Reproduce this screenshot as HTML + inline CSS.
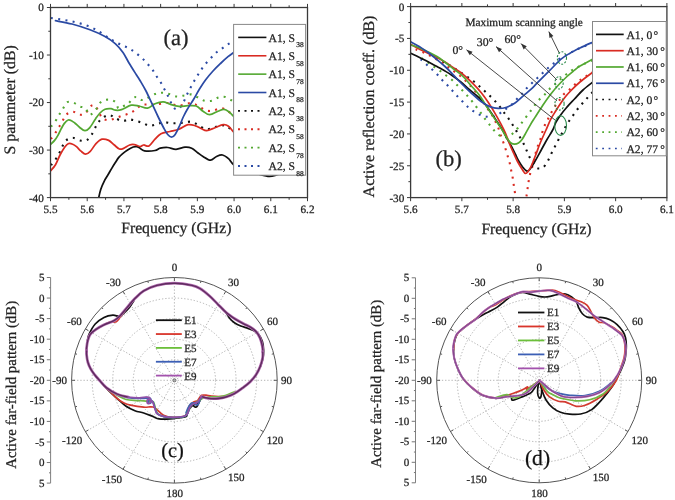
<!DOCTYPE html><html><head><meta charset="utf-8"><style>html,body{margin:0;padding:0;background:#fff;}svg{display:block;will-change:transform} text{stroke:#222;stroke-width:0.25px;paint-order:stroke;text-rendering:geometricPrecision;}</style></head><body><svg width="675" height="500" viewBox="0 0 675 500" font-family="Liberation Serif, serif"><defs><clipPath id="ca"><rect x="50.5" y="7.5" width="257.0" height="190.1"/></clipPath><clipPath id="cb"><rect x="410.6" y="6.6" width="256.3" height="191"/></clipPath></defs><path d="M51,165.2 C51.75,164.25 54.13,161.5 55.5,159.5 C56.87,157.5 58.08,155.33 59.2,153.2 C60.32,151.07 61.07,148.82 62.2,146.7 C63.33,144.58 64.25,141.98 66,140.5 C67.75,139.02 70.33,137.8 72.7,137.8 C75.07,137.8 77.87,140.1 80.2,140.5 C82.53,140.9 84.82,141.15 86.7,140.2 C88.58,139.25 90.08,136.88 91.5,134.8 C92.92,132.72 94.08,129.75 95.2,127.7 C96.32,125.65 96.95,124.17 98.2,122.5 C99.45,120.83 100.82,118.95 102.7,117.7 C104.58,116.45 107.37,114.9 109.5,115 C111.63,115.1 113.3,117.3 115.5,118.3 C117.7,119.3 120.45,120.8 122.7,121 C124.95,121.2 126.83,119.55 129,119.5 C131.17,119.45 133.33,120.08 135.7,120.7 C138.07,121.32 140.87,122.35 143.2,123.2 C145.53,124.05 147.48,125.62 149.7,125.8 C151.92,125.98 154.17,124.9 156.5,124.3 C158.83,123.7 161.33,122.38 163.7,122.2 C166.07,122.02 168.35,123.03 170.7,123.2 C173.05,123.37 175.47,123.32 177.8,123.2 C180.13,123.08 182.38,122.75 184.7,122.5 C187.02,122.25 189.4,121.25 191.7,121.7 C194,122.15 196.12,123.95 198.5,125.2 C200.88,126.45 203.55,128.78 206,129.2 C208.45,129.62 210.83,128.32 213.2,127.7 C215.57,127.08 217.9,125.75 220.2,125.5 C222.5,125.25 224.78,125.08 227,126.2 C229.22,127.32 232.42,131.2 233.5,132.2" fill="none" stroke="#111" stroke-width="2.1" stroke-dasharray="2 5.3" stroke-linecap="butt" clip-path="url(#ca)"/><path d="M51,139 C51.75,137.95 54.13,134.75 55.5,132.7 C56.87,130.65 57.95,128.82 59.2,126.7 C60.45,124.58 61.8,122.03 63,120 C64.2,117.97 64.73,115.88 66.4,114.5 C68.07,113.12 70.82,111.67 73,111.7 C75.18,111.73 77.42,114.45 79.5,114.7 C81.58,114.95 83.75,114.53 85.5,113.2 C87.25,111.87 88.55,108.03 90,106.7 C91.45,105.37 92.9,104.7 94.2,105.2 C95.5,105.7 96.5,107.62 97.8,109.7 C99.1,111.78 100.3,115.95 102,117.7 C103.7,119.45 105.8,120.08 108,120.2 C110.2,120.32 112.83,119.15 115.2,118.4 C117.57,117.65 119.9,116.52 122.2,115.7 C124.5,114.88 126.87,114.42 129,113.5 C131.13,112.58 133,111.58 135,110.2 C137,108.82 138.97,106.15 141,105.2 C143.03,104.25 144.87,104.62 147.2,104.5 C149.53,104.38 151.58,104.75 155,104.5 C158.42,104.25 164.45,102.95 167.7,103 C170.95,103.05 172.25,104.43 174.5,104.8 C176.75,105.17 178.83,105.45 181.2,105.2 C183.57,104.95 186.45,103.47 188.7,103.3 C190.95,103.13 192.7,103.5 194.7,104.2 C196.7,104.9 198.57,106.4 200.7,107.5 C202.83,108.6 205.28,110.35 207.5,110.8 C209.72,111.25 211.75,110.63 214,110.2 C216.25,109.77 218.83,108.15 221,108.2 C223.17,108.25 224.92,109.25 227,110.5 C229.08,111.75 232.42,114.83 233.5,115.7" fill="none" stroke="#d92b22" stroke-width="2.1" stroke-dasharray="2 5.3" stroke-linecap="butt" clip-path="url(#ca)"/><path d="M51,126.7 C51.75,125.75 54.13,123 55.5,121 C56.87,119 57.95,116.75 59.2,114.7 C60.45,112.65 61.67,110.78 63,108.7 C64.33,106.62 65.45,103.2 67.2,102.2 C68.95,101.2 71.4,102 73.5,102.7 C75.6,103.4 77.8,105.48 79.8,106.4 C81.8,107.32 84.05,106.9 85.5,108.2 C86.95,109.5 87.5,113.2 88.5,114.2 C89.5,115.2 90.25,115.02 91.5,114.2 C92.75,113.38 94.88,110.62 96,109.3 C97.12,107.98 97.2,107.68 98.2,106.3 C99.2,104.92 100.12,102.1 102,101 C103.88,99.9 107.25,99.5 109.5,99.7 C111.75,99.9 114,100.78 115.5,102.2 C117,103.62 117.13,107.57 118.5,108.2 C119.87,108.83 122.08,106.75 123.7,106 C125.32,105.25 126.7,104.95 128.2,103.7 C129.7,102.45 131.28,99.62 132.7,98.5 C134.12,97.38 134.98,96.75 136.7,97 C138.42,97.25 139.95,100.5 143,100 C146.05,99.5 151.75,95.2 155,94 C158.25,92.8 160.13,92.8 162.5,92.8 C164.87,92.8 166.83,93.38 169.2,94 C171.57,94.62 174.2,96.25 176.7,96.5 C179.2,96.75 181.7,95.85 184.2,95.5 C186.7,95.15 189.45,94.1 191.7,94.4 C193.95,94.7 195.57,96.25 197.7,97.3 C199.83,98.35 202.17,100.13 204.5,100.7 C206.83,101.27 209.33,101.25 211.7,100.7 C214.07,100.15 216.4,98.02 218.7,97.4 C221,96.78 223.03,96.32 225.5,97 C227.97,97.68 232.17,100.75 233.5,101.5" fill="none" stroke="#53a831" stroke-width="2.1" stroke-dasharray="2 5.3" stroke-linecap="butt" clip-path="url(#ca)"/><path d="M51,18 C52.12,18.17 55.33,18.63 57.7,19 C60.07,19.37 62.82,19.8 65.2,20.2 C67.58,20.6 69.67,20.9 72,21.4 C74.33,21.9 76.9,22.57 79.2,23.2 C81.5,23.83 83.55,24.4 85.8,25.2 C88.05,26 90.5,26.95 92.7,28 C94.9,29.05 96.95,30.25 99,31.5 C101.05,32.75 103.05,34.2 105,35.5 C106.95,36.8 108.75,38.1 110.7,39.3 C112.65,40.5 114.6,41.63 116.7,42.7 C118.8,43.77 121.13,44.7 123.3,45.7 C125.47,46.7 127.63,47.52 129.7,48.7 C131.77,49.88 133.7,51.3 135.7,52.8 C137.7,54.3 139.87,56 141.7,57.7 C143.53,59.4 144.98,61.12 146.7,63 C148.42,64.88 150.5,67 152,69 C153.5,71 154.37,72.97 155.7,75 C157.03,77.03 158.67,79.03 160,81.2 C161.33,83.37 162.53,85.87 163.7,88 C164.87,90.13 165.95,91.88 167,94 C168.05,96.12 168.95,98.5 170,100.7 C171.05,102.9 172.22,105.77 173.3,107.2 C174.38,108.63 175.47,109.13 176.5,109.3 C177.53,109.47 178.33,109.38 179.5,108.2 C180.67,107.02 182.33,104.32 183.5,102.2 C184.67,100.08 185.45,97.67 186.5,95.5 C187.55,93.33 188.68,91.33 189.8,89.2 C190.92,87.07 192,84.85 193.2,82.7 C194.4,80.55 195.75,78.33 197,76.3 C198.25,74.27 199.37,72.47 200.7,70.5 C202.03,68.53 203.37,66.5 205,64.5 C206.63,62.5 208.72,60.42 210.5,58.5 C212.28,56.58 213.83,54.63 215.7,53 C217.57,51.37 219.7,50.12 221.7,48.7 C223.7,47.28 225.7,45.78 227.7,44.5 C229.7,43.22 232.7,41.58 233.7,41" fill="none" stroke="#2b4aa4" stroke-width="2.1" stroke-dasharray="2 5.3" stroke-linecap="butt" clip-path="url(#ca)"/><path d="M98.4,199 C98.8,197.37 99.8,192.23 100.8,189.2 C101.8,186.17 103.2,183.2 104.4,180.8 C105.6,178.4 106.7,177 108,174.8 C109.3,172.6 111,169.6 112.2,167.6 C113.4,165.6 114.1,164.5 115.2,162.8 C116.3,161.1 117.6,158.9 118.8,157.4 C120,155.9 121,155 122.4,153.8 C123.8,152.6 125.4,151.33 127.2,150.2 C129,149.07 131.6,147.6 133.2,147 C134.8,146.4 135.67,146.4 136.8,146.6 C137.93,146.8 138.72,147.5 140,148.2 C141.28,148.9 142,150.42 144.5,150.8 C147,151.18 152.38,150.93 155,150.5 C157.62,150.07 158.08,148.7 160.2,148.2 C162.32,147.7 165.07,147.32 167.7,147.5 C170.33,147.68 173.12,149.35 176,149.3 C178.88,149.25 182.38,147.38 185,147.2 C187.62,147.02 189.58,147.28 191.7,148.2 C193.82,149.12 195.82,151.32 197.7,152.7 C199.58,154.08 200.87,155.25 203,156.5 C205.13,157.75 208.25,160.2 210.5,160.2 C212.75,160.2 214.5,157.37 216.5,156.5 C218.5,155.63 220.5,154.63 222.5,155 C224.5,155.37 226.63,157.08 228.5,158.7 C230.37,160.32 230.95,162.82 233.7,164.7 C236.45,166.58 240.95,168.45 245,170 C249.05,171.55 253.9,172.93 258,174 C262.1,175.07 265.93,176.4 269.6,176.4 C273.27,176.4 274.93,175.07 280,174 C285.07,172.93 296.67,170.67 300,170" fill="none" stroke="#111" stroke-width="1.75" stroke-linejoin="round" stroke-linecap="round" clip-path="url(#ca)"/><path d="M50.7,170.7 C51.5,169.7 53.95,167.32 55.5,164.7 C57.05,162.08 58.5,157.87 60,155 C61.5,152.13 63.13,149.38 64.5,147.5 C65.87,145.62 66.83,144.25 68.2,143.7 C69.57,143.15 71.32,143.7 72.7,144.2 C74.08,144.7 75.12,145.53 76.5,146.7 C77.88,147.87 79.5,149.95 81,151.2 C82.5,152.45 84,154.12 85.5,154.2 C87,154.28 88.25,153.45 90,151.7 C91.75,149.95 94,145.78 96,143.7 C98,141.62 99.88,139.75 102,139.2 C104.12,138.65 106.7,139.47 108.7,140.4 C110.7,141.33 112.22,143.37 114,144.8 C115.78,146.23 117.8,148.4 119.4,149 C121,149.6 121.9,149.07 123.6,148.4 C125.3,147.73 127.8,145.63 129.6,145 C131.4,144.37 132.67,144.35 134.4,144.6 C136.13,144.85 138.45,146.43 140,146.5 C141.55,146.57 142.2,145.08 143.7,145 C145.2,144.92 147.12,146.97 149,146 C150.88,145.03 153,141.25 155,139.2 C157,137.15 158.5,134.98 161,133.7 C163.5,132.42 167,132.25 170,131.5 C173,130.75 176,130.33 179,129.2 C182,128.07 185.25,125.27 188,124.7 C190.75,124.13 193.25,125.12 195.5,125.8 C197.75,126.48 199.63,127.98 201.5,128.8 C203.37,129.62 204.45,130.88 206.7,130.7 C208.95,130.52 212.25,128.7 215,127.7 C217.75,126.7 220.95,124.95 223.2,124.7 C225.45,124.45 226.75,124.95 228.5,126.2 C230.25,127.45 232.83,131.2 233.7,132.2" fill="none" stroke="#d92b22" stroke-width="1.75" stroke-linejoin="round" stroke-linecap="round" clip-path="url(#ca)"/><path d="M50.6,144.4 C51.27,143.73 53.4,141.87 54.6,140.4 C55.8,138.93 56.73,137.47 57.8,135.6 C58.87,133.73 59.93,131.2 61,129.2 C62.07,127.2 63,125.13 64.2,123.6 C65.4,122.07 66.87,120.4 68.2,120 C69.53,119.6 71.07,120.67 72.2,121.2 C73.33,121.73 73.78,122.2 75,123.2 C76.22,124.2 77.85,125.95 79.5,127.2 C81.15,128.45 83.22,130.6 84.9,130.7 C86.58,130.8 87.83,129.77 89.6,127.8 C91.37,125.83 93.77,121.37 95.5,118.9 C97.23,116.43 98.42,114.6 100,113 C101.58,111.4 103.17,110.02 105,109.3 C106.83,108.58 109.25,108.55 111,108.7 C112.75,108.85 113.75,110.03 115.5,110.2 C117.25,110.37 118.88,110.53 121.5,109.7 C124.12,108.87 128.28,105.82 131.2,105.2 C134.12,104.58 136.28,105.5 139,106 C141.72,106.5 144.83,108.58 147.5,108.2 C150.17,107.82 152.38,104.77 155,103.7 C157.62,102.63 160.7,101.72 163.2,101.8 C165.7,101.88 167.37,103.45 170,104.2 C172.63,104.95 176,106.05 179,106.3 C182,106.55 185.13,105.75 188,105.7 C190.87,105.65 193.7,105.08 196.2,106 C198.7,106.92 200.75,109.75 203,111.2 C205.25,112.65 207.2,114.7 209.7,114.7 C212.2,114.7 215.62,112.1 218,111.2 C220.38,110.3 222.13,109.17 224,109.3 C225.87,109.43 227.58,110.8 229.2,112 C230.82,113.2 232.95,115.75 233.7,116.5" fill="none" stroke="#53a831" stroke-width="1.75" stroke-linejoin="round" stroke-linecap="round" clip-path="url(#ca)"/><path d="M55.5,20.7 C58.25,21.25 66.25,22.48 72,24 C77.75,25.52 84.5,27.72 90,29.8 C95.5,31.88 100.75,34.17 105,36.5 C109.25,38.83 112.5,41.13 115.5,43.8 C118.5,46.47 120.75,49.3 123,52.5 C125.25,55.7 126.75,59.25 129,63 C131.25,66.75 134.67,72.08 136.5,75 C138.33,77.92 138.42,77.83 140,80.5 C141.58,83.17 144,87.13 146,91 C148,94.87 150,99.45 152,103.7 C154,107.95 156,112.37 158,116.5 C160,120.63 162.38,125.5 164,128.5 C165.62,131.5 166.45,133.05 167.7,134.5 C168.95,135.95 170.25,137.2 171.5,137.2 C172.75,137.2 173.83,136.45 175.2,134.5 C176.57,132.55 178.32,128.5 179.7,125.5 C181.08,122.5 182.2,119.25 183.5,116.5 C184.8,113.75 185.83,111.83 187.5,109 C189.17,106.17 191.5,102.83 193.5,99.5 C195.5,96.17 197.5,92.25 199.5,89 C201.5,85.75 203.25,83 205.5,80 C207.75,77 210.5,73.75 213,71 C215.5,68.25 218,65.88 220.5,63.5 C223,61.12 225.8,58.53 228,56.7 C230.2,54.87 232.75,53.2 233.7,52.5" fill="none" stroke="#2b4aa4" stroke-width="1.75" stroke-linejoin="round" stroke-linecap="round" clip-path="url(#ca)"/><rect x="50.5" y="7.5" width="257.0" height="190.1" fill="none" stroke="#3a3a3a" stroke-width="1.3"/><line x1="50.5" y1="197.6" x2="50.5" y2="201.2" stroke="#3a3a3a" stroke-width="1" /><line x1="50.5" y1="7.5" x2="50.5" y2="3.9" stroke="#3a3a3a" stroke-width="1" /><line x1="68.86" y1="197.6" x2="68.86" y2="199.8" stroke="#3a3a3a" stroke-width="1" /><line x1="68.86" y1="7.5" x2="68.86" y2="5.3" stroke="#3a3a3a" stroke-width="1" /><line x1="87.21" y1="197.6" x2="87.21" y2="201.2" stroke="#3a3a3a" stroke-width="1" /><line x1="87.21" y1="7.5" x2="87.21" y2="3.9" stroke="#3a3a3a" stroke-width="1" /><line x1="105.57" y1="197.6" x2="105.57" y2="199.8" stroke="#3a3a3a" stroke-width="1" /><line x1="105.57" y1="7.5" x2="105.57" y2="5.3" stroke="#3a3a3a" stroke-width="1" /><line x1="123.93" y1="197.6" x2="123.93" y2="201.2" stroke="#3a3a3a" stroke-width="1" /><line x1="123.93" y1="7.5" x2="123.93" y2="3.9" stroke="#3a3a3a" stroke-width="1" /><line x1="142.29" y1="197.6" x2="142.29" y2="199.8" stroke="#3a3a3a" stroke-width="1" /><line x1="142.29" y1="7.5" x2="142.29" y2="5.3" stroke="#3a3a3a" stroke-width="1" /><line x1="160.64" y1="197.6" x2="160.64" y2="201.2" stroke="#3a3a3a" stroke-width="1" /><line x1="160.64" y1="7.5" x2="160.64" y2="3.9" stroke="#3a3a3a" stroke-width="1" /><line x1="179" y1="197.6" x2="179" y2="199.8" stroke="#3a3a3a" stroke-width="1" /><line x1="179" y1="7.5" x2="179" y2="5.3" stroke="#3a3a3a" stroke-width="1" /><line x1="197.36" y1="197.6" x2="197.36" y2="201.2" stroke="#3a3a3a" stroke-width="1" /><line x1="197.36" y1="7.5" x2="197.36" y2="3.9" stroke="#3a3a3a" stroke-width="1" /><line x1="215.71" y1="197.6" x2="215.71" y2="199.8" stroke="#3a3a3a" stroke-width="1" /><line x1="215.71" y1="7.5" x2="215.71" y2="5.3" stroke="#3a3a3a" stroke-width="1" /><line x1="234.07" y1="197.6" x2="234.07" y2="201.2" stroke="#3a3a3a" stroke-width="1" /><line x1="234.07" y1="7.5" x2="234.07" y2="3.9" stroke="#3a3a3a" stroke-width="1" /><line x1="252.43" y1="197.6" x2="252.43" y2="199.8" stroke="#3a3a3a" stroke-width="1" /><line x1="252.43" y1="7.5" x2="252.43" y2="5.3" stroke="#3a3a3a" stroke-width="1" /><line x1="270.79" y1="197.6" x2="270.79" y2="201.2" stroke="#3a3a3a" stroke-width="1" /><line x1="270.79" y1="7.5" x2="270.79" y2="3.9" stroke="#3a3a3a" stroke-width="1" /><line x1="289.14" y1="197.6" x2="289.14" y2="199.8" stroke="#3a3a3a" stroke-width="1" /><line x1="289.14" y1="7.5" x2="289.14" y2="5.3" stroke="#3a3a3a" stroke-width="1" /><line x1="307.5" y1="197.6" x2="307.5" y2="201.2" stroke="#3a3a3a" stroke-width="1" /><line x1="307.5" y1="7.5" x2="307.5" y2="3.9" stroke="#3a3a3a" stroke-width="1" /><line x1="46.9" y1="7.5" x2="50.5" y2="7.5" stroke="#3a3a3a" stroke-width="1" /><line x1="48.3" y1="31.26" x2="50.5" y2="31.26" stroke="#3a3a3a" stroke-width="1" /><line x1="46.9" y1="55.02" x2="50.5" y2="55.02" stroke="#3a3a3a" stroke-width="1" /><line x1="48.3" y1="78.79" x2="50.5" y2="78.79" stroke="#3a3a3a" stroke-width="1" /><line x1="46.9" y1="102.55" x2="50.5" y2="102.55" stroke="#3a3a3a" stroke-width="1" /><line x1="48.3" y1="126.31" x2="50.5" y2="126.31" stroke="#3a3a3a" stroke-width="1" /><line x1="46.9" y1="150.07" x2="50.5" y2="150.07" stroke="#3a3a3a" stroke-width="1" /><line x1="48.3" y1="173.84" x2="50.5" y2="173.84" stroke="#3a3a3a" stroke-width="1" /><line x1="46.9" y1="197.6" x2="50.5" y2="197.6" stroke="#3a3a3a" stroke-width="1" /><g font-family="Liberation Serif, serif" fill="#222"><text x="50.5" y="213.2" font-size="11.2" text-anchor="middle" >5.5</text><text x="87.21" y="213.2" font-size="11.2" text-anchor="middle" >5.6</text><text x="123.93" y="213.2" font-size="11.2" text-anchor="middle" >5.7</text><text x="160.64" y="213.2" font-size="11.2" text-anchor="middle" >5.8</text><text x="197.36" y="213.2" font-size="11.2" text-anchor="middle" >5.9</text><text x="234.07" y="213.2" font-size="11.2" text-anchor="middle" >6.0</text><text x="270.79" y="213.2" font-size="11.2" text-anchor="middle" >6.1</text><text x="307.5" y="213.2" font-size="11.2" text-anchor="middle" >6.2</text><text x="43.8" y="11.4" font-size="11.2" text-anchor="end" >0</text><text x="43.8" y="58.92" font-size="11.2" text-anchor="end" >-10</text><text x="43.8" y="106.45" font-size="11.2" text-anchor="end" >-20</text><text x="43.8" y="153.97" font-size="11.2" text-anchor="end" >-30</text><text x="43.8" y="201.5" font-size="11.2" text-anchor="end" >-40</text><text x="176.3" y="233.2" font-size="15.7" text-anchor="middle" >Frequency (GHz)</text><text transform="translate(15.2,99.8) rotate(-90)" font-size="15.9" text-anchor="middle">S parameter (dB)</text><text x="176" y="45.3" font-size="22.6" text-anchor="middle" >(a)</text></g><rect x="233.6" y="24.4" width="72.00000000000003" height="150.79999999999998" fill="#fff" stroke="#888" stroke-width="1"/><g font-family="Liberation Serif, serif" fill="#222"><line x1="238.2" y1="37.4" x2="266.4" y2="37.4" stroke="#111" stroke-width="1.6" /><text x="268.6" y="41.5" font-size="11.6">A1, S</text><text x="296.2" y="47.3" font-size="7.4">38</text><line x1="238.2" y1="55.77" x2="266.4" y2="55.77" stroke="#d92b22" stroke-width="1.6" /><text x="268.6" y="59.87" font-size="11.6">A1, S</text><text x="296.2" y="65.67" font-size="7.4">58</text><line x1="238.2" y1="74.14" x2="266.4" y2="74.14" stroke="#53a831" stroke-width="1.6" /><text x="268.6" y="78.24" font-size="11.6">A1, S</text><text x="296.2" y="84.04" font-size="7.4">78</text><line x1="238.2" y1="92.51" x2="266.4" y2="92.51" stroke="#2b4aa4" stroke-width="1.6" /><text x="268.6" y="96.61" font-size="11.6">A1, S</text><text x="296.2" y="102.41" font-size="7.4">88</text><line x1="238" y1="110.88" x2="261" y2="110.88" stroke="#111" stroke-width="1.9" stroke-dasharray="2 4.5"/><text x="268.6" y="114.98" font-size="11.6">A2, S</text><text x="296.2" y="120.78" font-size="7.4">38</text><line x1="238" y1="129.25" x2="261" y2="129.25" stroke="#d92b22" stroke-width="1.9" stroke-dasharray="2 4.5"/><text x="268.6" y="133.35" font-size="11.6">A2, S</text><text x="296.2" y="139.15" font-size="7.4">58</text><line x1="238" y1="147.62" x2="261" y2="147.62" stroke="#53a831" stroke-width="1.9" stroke-dasharray="2 4.5"/><text x="268.6" y="151.72" font-size="11.6">A2, S</text><text x="296.2" y="157.52" font-size="7.4">78</text><line x1="238" y1="165.99" x2="261" y2="165.99" stroke="#2b4aa4" stroke-width="1.9" stroke-dasharray="2 4.5"/><text x="268.6" y="170.09" font-size="11.6">A2, S</text><text x="296.2" y="175.89" font-size="7.4">88</text></g><path d="M436,57.8 C437.1,58.4 440.43,60.2 442.6,61.4 C444.77,62.6 446.93,63.78 449,65 C451.07,66.22 453.08,67.48 455,68.7 C456.92,69.92 458.47,70.95 460.5,72.3 C462.53,73.65 465.08,75.35 467.2,76.8 C469.32,78.25 471.27,79.5 473.2,81 C475.13,82.5 477,84.22 478.8,85.8 C480.6,87.38 482.23,88.9 484,90.5 C485.77,92.1 487.65,93.73 489.4,95.4 C491.15,97.07 492.8,98.68 494.5,100.5 C496.2,102.32 498.03,104.33 499.6,106.3 C501.17,108.27 502.43,110.3 503.9,112.3 C505.37,114.3 507,116.3 508.4,118.3 C509.8,120.3 511,122.25 512.3,124.3 C513.6,126.35 514.97,128.52 516.2,130.6 C517.43,132.68 518.48,134.65 519.7,136.8 C520.92,138.95 522.37,141.27 523.5,143.5 C524.63,145.73 525.5,147.95 526.5,150.2 C527.5,152.45 528.38,154.75 529.5,157 C530.62,159.25 531.88,161.83 533.2,163.7 C534.52,165.57 535.77,167.57 537.4,168.2 C539.03,168.83 541.32,168.62 543,167.5 C544.68,166.38 546.2,163.63 547.5,161.5 C548.8,159.37 549.68,156.95 550.8,154.7 C551.92,152.45 553.05,150.25 554.2,148 C555.35,145.75 556.57,143.37 557.7,141.2 C558.83,139.03 559.9,137.03 561,135 C562.1,132.97 563.13,131.05 564.3,129 C565.47,126.95 566.7,124.73 568,122.7 C569.3,120.67 570.72,118.78 572.1,116.8 C573.48,114.82 574.83,112.75 576.3,110.8 C577.77,108.85 579.35,106.92 580.9,105.1 C582.45,103.28 584.03,101.68 585.6,99.9 C587.17,98.12 588.57,96.22 590.3,94.4 C592.03,92.58 595.05,89.9 596,89" fill="none" stroke="#111" stroke-width="2.1" stroke-dasharray="2 5.3" stroke-linecap="butt" clip-path="url(#cb)"/><path d="M415.6,49.3 C416.77,49.75 420.37,51.05 422.6,52 C424.83,52.95 426.9,53.9 429,55 C431.1,56.1 433.13,57.33 435.2,58.6 C437.27,59.87 439.37,61.27 441.4,62.6 C443.43,63.93 445.47,65.27 447.4,66.6 C449.33,67.93 451.07,69.2 453,70.6 C454.93,72 457.13,73.52 459,75 C460.87,76.48 462.45,77.88 464.2,79.5 C465.95,81.12 467.7,82.78 469.5,84.7 C471.3,86.62 473.08,88.62 475,91 C476.92,93.38 478.93,96.1 481,99 C483.07,101.9 485.63,105.83 487.4,108.4 C489.17,110.97 490.3,112.3 491.6,114.4 C492.9,116.5 494.1,118.8 495.2,121 C496.3,123.2 497.3,125.3 498.2,127.6 C499.1,129.9 499.77,132.4 500.6,134.8 C501.43,137.2 502.38,139.68 503.2,142 C504.02,144.32 504.75,146.33 505.5,148.7 C506.25,151.07 507,153.82 507.7,156.2 C508.4,158.58 509.12,160.62 509.7,163 C510.28,165.38 510.7,168.05 511.2,170.5 C511.7,172.95 512.28,175.33 512.7,177.7 C513.12,180.07 513.35,182.35 513.7,184.7 C514.05,187.05 514.42,189.25 514.8,191.8 C515.18,194.35 515.47,196.13 516,200 C516.53,203.87 517.17,211.33 518,215 C518.83,218.67 520,222 521,222 C522,222 523.17,218.67 524,215 C524.83,211.33 525.38,204.55 526,200 C526.62,195.45 527.25,190.87 527.7,187.7 C528.15,184.53 528.28,183.37 528.7,181 C529.12,178.63 529.57,176 530.2,173.5 C530.83,171 531.82,168.5 532.5,166 C533.18,163.5 533.68,161 534.3,158.5 C534.92,156 535.5,153.38 536.2,151 C536.9,148.62 537.75,146.33 538.5,144.2 C539.25,142.07 540.03,140.3 540.7,138.2 C541.37,136.1 541.78,133.83 542.5,131.6 C543.22,129.37 544,127.05 545,124.8 C546,122.55 547.37,120.27 548.5,118.1 C549.63,115.93 550.63,113.88 551.8,111.8 C552.97,109.72 554.2,107.58 555.5,105.6 C556.8,103.62 558.22,101.8 559.6,99.9 C560.98,98 562.2,95.85 563.8,94.2 C565.4,92.55 567.55,91.45 569.2,90 C570.85,88.55 572.07,87 573.7,85.5 C575.33,84 577.12,82.42 579,81 C580.88,79.58 582.67,78.5 585,77 C587.33,75.5 591.67,72.83 593,72" fill="none" stroke="#d92b22" stroke-width="2.1" stroke-dasharray="2 5.3" stroke-linecap="butt" clip-path="url(#cb)"/><path d="M421.5,58.2 C422.62,58.93 426.08,61.13 428.2,62.6 C430.32,64.07 432.2,65.6 434.2,67 C436.2,68.4 438.32,69.67 440.2,71 C442.08,72.33 443.62,73.58 445.5,75 C447.38,76.42 449.63,77.88 451.5,79.5 C453.37,81.12 454.95,82.95 456.7,84.7 C458.45,86.45 460.32,88.25 462,90 C463.68,91.75 465.18,93.4 466.8,95.2 C468.42,97 470.12,98.87 471.7,100.8 C473.28,102.73 474.78,104.8 476.3,106.8 C477.82,108.8 479.35,110.8 480.8,112.8 C482.25,114.8 483.55,116.83 485,118.8 C486.45,120.77 488,122.68 489.5,124.6 C491,126.52 492.4,128.55 494,130.3 C495.6,132.05 497.27,133.9 499.1,135.1 C500.93,136.3 502.93,137.6 505,137.5 C507.07,137.4 509.48,135.95 511.5,134.5 C513.52,133.05 515.43,130.7 517.1,128.8 C518.77,126.9 520.02,125.05 521.5,123.1 C522.98,121.15 524.53,119.05 526,117.1 C527.47,115.15 528.9,113.32 530.3,111.4 C531.7,109.48 532.92,107.55 534.4,105.6 C535.88,103.65 537.52,101.5 539.2,99.7 C540.88,97.9 542.82,96.55 544.5,94.8 C546.18,93.05 547.63,90.88 549.3,89.2 C550.97,87.52 552.68,86.32 554.5,84.7 C556.32,83.08 558.32,81.17 560.2,79.5 C562.08,77.83 563.92,76.2 565.8,74.7 C567.68,73.2 569.55,71.75 571.5,70.5 C573.45,69.25 575.42,68.28 577.5,67.2 C579.58,66.12 581.42,65.2 584,64 C586.58,62.8 591.5,60.67 593,60" fill="none" stroke="#53a831" stroke-width="2.1" stroke-dasharray="2 5.3" stroke-linecap="butt" clip-path="url(#cb)"/><path d="M420.7,59.2 C421.62,60.03 424.35,62.53 426.2,64.2 C428.05,65.87 430,67.53 431.8,69.2 C433.6,70.87 435.35,72.48 437,74.2 C438.65,75.92 440.03,77.75 441.7,79.5 C443.37,81.25 445.32,82.95 447,84.7 C448.68,86.45 450.18,88.2 451.8,90 C453.42,91.8 455,93.67 456.7,95.5 C458.4,97.33 460.22,99.17 462,101 C463.78,102.83 465.52,104.82 467.4,106.5 C469.28,108.18 471.17,109.68 473.3,111.1 C475.43,112.52 477.85,114.05 480.2,115 C482.55,115.95 485.1,116.55 487.4,116.8 C489.7,117.05 491.8,117.17 494,116.5 C496.2,115.83 498.5,114.15 500.6,112.8 C502.7,111.45 504.65,109.87 506.6,108.4 C508.55,106.93 510.55,105.6 512.3,104 C514.05,102.4 515.48,100.52 517.1,98.8 C518.72,97.08 520.32,95.55 522,93.7 C523.68,91.85 525.45,89.57 527.2,87.7 C528.95,85.83 530.75,84.17 532.5,82.5 C534.25,80.83 535.95,79.33 537.7,77.7 C539.45,76.07 541.17,74.4 543,72.7 C544.83,71 546.83,69.12 548.7,67.5 C550.57,65.88 552.28,64.5 554.2,63 C556.12,61.5 557.95,59.95 560.2,58.5 C562.45,57.05 565.45,55.55 567.7,54.3 C569.95,53.05 571.65,52.05 573.7,51 C575.75,49.95 576.78,49.33 580,48 C583.22,46.67 590.83,43.83 593,43" fill="none" stroke="#2b4aa4" stroke-width="2.1" stroke-dasharray="2 5.3" stroke-linecap="butt" clip-path="url(#cb)"/><path d="M410.7,53.2 C412.42,54.03 417.95,56.7 421,58.2 C424.05,59.7 426.33,60.8 429,62.2 C431.67,63.6 434.33,65.13 437,66.6 C439.67,68.07 442.6,69.6 445,71 C447.4,72.4 448.82,73.22 451.4,75 C453.98,76.78 457.73,79.45 460.5,81.7 C463.27,83.95 465.25,86.12 468,88.5 C470.75,90.88 474.25,93.5 477,96 C479.75,98.5 482.17,100.75 484.5,103.5 C486.83,106.25 488.92,109.5 491,112.5 C493.08,115.5 495.08,118.58 497,121.5 C498.92,124.42 500.83,127.17 502.5,130 C504.17,132.83 505.5,135.75 507,138.5 C508.5,141.25 510.08,143.83 511.5,146.5 C512.92,149.17 514.25,152 515.5,154.5 C516.75,157 517.75,159.33 519,161.5 C520.25,163.67 521.63,165.88 523,167.5 C524.37,169.12 525.95,171.03 527.2,171.2 C528.45,171.37 529.37,169.87 530.5,168.5 C531.63,167.13 532.17,166.17 534,163 C535.83,159.83 539.33,153.42 541.5,149.5 C543.67,145.58 545.13,142.75 547,139.5 C548.87,136.25 551.2,132.88 552.7,130 C554.2,127.12 554.62,124.78 556,122.2 C557.38,119.62 559.27,116.92 561,114.5 C562.73,112.08 564.15,110.28 566.4,107.7 C568.65,105.12 571.73,101.95 574.5,99 C577.27,96.05 579.92,92.83 583,90 C586.08,87.17 591.33,83.33 593,82" fill="none" stroke="#111" stroke-width="1.7" stroke-linejoin="round" stroke-linecap="round" clip-path="url(#cb)"/><path d="M410.7,44.4 C412.25,45.25 415.95,47.48 420,49.5 C424.05,51.52 430.83,54.42 435,56.5 C439.17,58.58 442,60.18 445,62 C448,63.82 450.17,65.48 453,67.4 C455.83,69.32 458.75,70.87 462,73.5 C465.25,76.13 469.25,79.95 472.5,83.2 C475.75,86.45 478.75,89.62 481.5,93 C484.25,96.38 486.82,100.23 489,103.5 C491.18,106.77 492.67,109.28 494.6,112.6 C496.53,115.92 498.8,120 500.6,123.4 C502.4,126.8 503.83,129.4 505.4,133 C506.97,136.6 508.57,141.5 510,145 C511.43,148.5 512.75,151.25 514,154 C515.25,156.75 516.17,159 517.5,161.5 C518.83,164 520.63,167 522,169 C523.37,171 524.33,173.63 525.7,173.5 C527.07,173.37 528.57,171.2 530.2,168.2 C531.83,165.2 533.87,159.62 535.5,155.5 C537.13,151.38 538.25,147.75 540,143.5 C541.75,139.25 544.2,134.07 546,130 C547.8,125.93 549.13,122.35 550.8,119.1 C552.47,115.85 554.27,113.27 556,110.5 C557.73,107.73 559.53,104.92 561.2,102.5 C562.87,100.08 564.27,98.08 566,96 C567.73,93.92 569.27,92.33 571.6,90 C573.93,87.67 576.43,85 580,82 C583.57,79 590.83,73.67 593,72" fill="none" stroke="#d92b22" stroke-width="1.7" stroke-linejoin="round" stroke-linecap="round" clip-path="url(#cb)"/><path d="M410.7,45 C412.42,45.58 416.62,46.57 421,48.5 C425.38,50.43 433,54.32 437,56.6 C441,58.88 442.33,60.2 445,62.2 C447.67,64.2 450.17,66.38 453,68.6 C455.83,70.82 459,72.68 462,75.5 C465,78.32 468,82.08 471,85.5 C474,88.92 477.27,92.28 480,96 C482.73,99.72 484.97,104.03 487.4,107.8 C489.83,111.57 492.2,115 494.6,118.6 C497,122.2 499.65,126 501.8,129.4 C503.95,132.8 505.97,136.73 507.5,139 C509.03,141.27 509.83,142.13 511,143 C512.17,143.87 513.25,144.2 514.5,144.2 C515.75,144.2 517.25,143.78 518.5,143 C519.75,142.22 520.92,140.92 522,139.5 C523.08,138.08 523.58,136.98 525,134.5 C526.42,132.02 528.83,127.45 530.5,124.6 C532.17,121.75 532.92,120.67 535,117.4 C537.08,114.13 540.42,108.82 543,105 C545.58,101.18 548,97.75 550.5,94.5 C553,91.25 555.25,88.5 558,85.5 C560.75,82.5 564.25,79.05 567,76.5 C569.75,73.95 572.33,71.95 574.5,70.2 C576.67,68.45 576.92,67.87 580,66 C583.08,64.13 590.83,60.17 593,59" fill="none" stroke="#53a831" stroke-width="1.7" stroke-linejoin="round" stroke-linecap="round" clip-path="url(#cb)"/><path d="M410.7,41.8 C412.42,42.77 417.95,45.7 421,47.6 C424.05,49.5 426.33,51.2 429,53.2 C431.67,55.2 434.33,57.38 437,59.6 C439.67,61.82 442.6,64.3 445,66.5 C447.4,68.7 449.23,70.55 451.4,72.8 C453.57,75.05 455.73,77.63 458,80 C460.27,82.37 462.5,84.57 465,87 C467.5,89.43 470.27,92.13 473,94.6 C475.73,97.07 478.6,99.8 481.4,101.8 C484.2,103.8 487,105.5 489.8,106.6 C492.6,107.7 495.4,108.3 498.2,108.4 C501,108.5 503.8,108.1 506.6,107.2 C509.4,106.3 512.22,104.9 515,103 C517.78,101.1 520.52,98.2 523.3,95.8 C526.08,93.4 529.42,90.7 531.7,88.6 C533.98,86.5 534.12,86.1 537,83.2 C539.88,80.3 545,75.2 549,71.2 C553,67.2 557.5,62.2 561,59.2 C564.5,56.2 566.83,55.07 570,53.2 C573.17,51.33 576.17,49.87 580,48 C583.83,46.13 590.83,43 593,42" fill="none" stroke="#2b4aa4" stroke-width="1.7" stroke-linejoin="round" stroke-linecap="round" clip-path="url(#cb)"/><rect x="410.6" y="6.6" width="256.29999999999995" height="191.0" fill="none" stroke="#3a3a3a" stroke-width="1.3"/><line x1="410.6" y1="197.6" x2="410.6" y2="201.2" stroke="#3a3a3a" stroke-width="1" /><line x1="410.6" y1="6.6" x2="410.6" y2="3" stroke="#3a3a3a" stroke-width="1" /><line x1="436.23" y1="197.6" x2="436.23" y2="199.8" stroke="#3a3a3a" stroke-width="1" /><line x1="436.23" y1="6.6" x2="436.23" y2="4.4" stroke="#3a3a3a" stroke-width="1" /><line x1="461.86" y1="197.6" x2="461.86" y2="201.2" stroke="#3a3a3a" stroke-width="1" /><line x1="461.86" y1="6.6" x2="461.86" y2="3" stroke="#3a3a3a" stroke-width="1" /><line x1="487.49" y1="197.6" x2="487.49" y2="199.8" stroke="#3a3a3a" stroke-width="1" /><line x1="487.49" y1="6.6" x2="487.49" y2="4.4" stroke="#3a3a3a" stroke-width="1" /><line x1="513.12" y1="197.6" x2="513.12" y2="201.2" stroke="#3a3a3a" stroke-width="1" /><line x1="513.12" y1="6.6" x2="513.12" y2="3" stroke="#3a3a3a" stroke-width="1" /><line x1="538.75" y1="197.6" x2="538.75" y2="199.8" stroke="#3a3a3a" stroke-width="1" /><line x1="538.75" y1="6.6" x2="538.75" y2="4.4" stroke="#3a3a3a" stroke-width="1" /><line x1="564.38" y1="197.6" x2="564.38" y2="201.2" stroke="#3a3a3a" stroke-width="1" /><line x1="564.38" y1="6.6" x2="564.38" y2="3" stroke="#3a3a3a" stroke-width="1" /><line x1="590.01" y1="197.6" x2="590.01" y2="199.8" stroke="#3a3a3a" stroke-width="1" /><line x1="590.01" y1="6.6" x2="590.01" y2="4.4" stroke="#3a3a3a" stroke-width="1" /><line x1="615.64" y1="197.6" x2="615.64" y2="201.2" stroke="#3a3a3a" stroke-width="1" /><line x1="615.64" y1="6.6" x2="615.64" y2="3" stroke="#3a3a3a" stroke-width="1" /><line x1="641.27" y1="197.6" x2="641.27" y2="199.8" stroke="#3a3a3a" stroke-width="1" /><line x1="641.27" y1="6.6" x2="641.27" y2="4.4" stroke="#3a3a3a" stroke-width="1" /><line x1="666.9" y1="197.6" x2="666.9" y2="201.2" stroke="#3a3a3a" stroke-width="1" /><line x1="666.9" y1="6.6" x2="666.9" y2="3" stroke="#3a3a3a" stroke-width="1" /><line x1="407" y1="6.6" x2="410.6" y2="6.6" stroke="#3a3a3a" stroke-width="1" /><line x1="408.4" y1="22.52" x2="410.6" y2="22.52" stroke="#3a3a3a" stroke-width="1" /><line x1="407" y1="38.43" x2="410.6" y2="38.43" stroke="#3a3a3a" stroke-width="1" /><line x1="408.4" y1="54.35" x2="410.6" y2="54.35" stroke="#3a3a3a" stroke-width="1" /><line x1="407" y1="70.27" x2="410.6" y2="70.27" stroke="#3a3a3a" stroke-width="1" /><line x1="408.4" y1="86.18" x2="410.6" y2="86.18" stroke="#3a3a3a" stroke-width="1" /><line x1="407" y1="102.1" x2="410.6" y2="102.1" stroke="#3a3a3a" stroke-width="1" /><line x1="408.4" y1="118.02" x2="410.6" y2="118.02" stroke="#3a3a3a" stroke-width="1" /><line x1="407" y1="133.93" x2="410.6" y2="133.93" stroke="#3a3a3a" stroke-width="1" /><line x1="408.4" y1="149.85" x2="410.6" y2="149.85" stroke="#3a3a3a" stroke-width="1" /><line x1="407" y1="165.77" x2="410.6" y2="165.77" stroke="#3a3a3a" stroke-width="1" /><line x1="408.4" y1="181.68" x2="410.6" y2="181.68" stroke="#3a3a3a" stroke-width="1" /><line x1="407" y1="197.6" x2="410.6" y2="197.6" stroke="#3a3a3a" stroke-width="1" /><g font-family="Liberation Serif, serif" fill="#222"><text x="410.6" y="213" font-size="11.2" text-anchor="middle" >5.6</text><text x="461.86" y="213" font-size="11.2" text-anchor="middle" >5.7</text><text x="513.12" y="213" font-size="11.2" text-anchor="middle" >5.8</text><text x="564.38" y="213" font-size="11.2" text-anchor="middle" >5.9</text><text x="615.64" y="213" font-size="11.2" text-anchor="middle" >6.0</text><text x="666.9" y="213" font-size="11.2" text-anchor="middle" >6.1</text><text x="404.3" y="10.5" font-size="11.2" text-anchor="end" >0</text><text x="404.3" y="42.33" font-size="11.2" text-anchor="end" >-5</text><text x="404.3" y="74.17" font-size="11.2" text-anchor="end" >-10</text><text x="404.3" y="106" font-size="11.2" text-anchor="end" >-15</text><text x="404.3" y="137.83" font-size="11.2" text-anchor="end" >-20</text><text x="404.3" y="169.67" font-size="11.2" text-anchor="end" >-25</text><text x="404.3" y="201.5" font-size="11.2" text-anchor="end" >-30</text><text x="536.5" y="234.1" font-size="15.7" text-anchor="middle" >Frequency (GHz)</text><text transform="translate(374.4,106.5) rotate(-90)" font-size="16" text-anchor="middle">Active reflection coeff. (dB)</text><text x="448.6" y="166.2" font-size="22.6" text-anchor="middle" >(b)</text><text x="524.2" y="26.2" font-size="11.3" text-anchor="middle" >Maximum scanning angle</text><text x="457.7" y="53.5" font-size="11.8" text-anchor="middle" >0°</text><text x="485" y="45.8" font-size="11.8" text-anchor="middle" >30°</text><text x="512.7" y="43.2" font-size="11.8" text-anchor="middle" >60°</text></g><line x1="466.5" y1="49.8" x2="555" y2="120" stroke="#333" stroke-width="0.9" /><path d="M466.5,49.8 L469.83,55.25 L472.57,51.81 Z" fill="#333"/><line x1="496" y1="46.6" x2="557" y2="101" stroke="#333" stroke-width="0.9" /><path d="M496,46.6 L499.01,52.24 L501.94,48.95 Z" fill="#333"/><line x1="521" y1="43.6" x2="557" y2="80" stroke="#333" stroke-width="0.9" /><path d="M521,43.6 L523.65,49.41 L526.78,46.32 Z" fill="#333"/><line x1="548.8" y1="31.6" x2="559.5" y2="53.5" stroke="#333" stroke-width="0.9" /><path d="M548.8,31.6 L549.46,37.96 L553.41,36.03 Z" fill="#333"/><ellipse cx="560.6" cy="125.6" rx="5.9" ry="9.8" fill="none" stroke="#2a8a4a" stroke-width="1.1"/><ellipse cx="559.5" cy="103.8" rx="4.6" ry="6.3" fill="none" stroke="#2a8a4a" stroke-width="1.1" stroke-dasharray="2 1.5"/><ellipse cx="559.1" cy="82.8" rx="4.1" ry="6.2" fill="none" stroke="#2a8a4a" stroke-width="1.1" stroke-dasharray="2 1.5"/><ellipse cx="561.9" cy="58" rx="4.6" ry="6.2" fill="none" stroke="#2a8a4a" stroke-width="1.1" stroke-dasharray="2 1.5"/><rect x="592.5" y="21.5" width="73.70000000000005" height="134.3" fill="#fff" stroke="#888" stroke-width="1"/><g font-family="Liberation Serif, serif" fill="#222"><line x1="596" y1="34.4" x2="623.7" y2="34.4" stroke="#111" stroke-width="1.7" /><text x="626.5" y="38.6" font-size="11.6">A1, 0<tspan dx="1.2">°</tspan></text><line x1="596" y1="50.69" x2="623.7" y2="50.69" stroke="#d92b22" stroke-width="1.7" /><text x="626.5" y="54.89" font-size="11.6">A1, 30<tspan dx="2.2">°</tspan></text><line x1="596" y1="66.98" x2="623.7" y2="66.98" stroke="#53a831" stroke-width="1.7" /><text x="626.5" y="71.18" font-size="11.6">A1, 60<tspan dx="2.2">°</tspan></text><line x1="596" y1="83.27" x2="623.7" y2="83.27" stroke="#2b4aa4" stroke-width="1.7" /><text x="626.5" y="87.47" font-size="11.6">A1, 76<tspan dx="2.2">°</tspan></text><line x1="595.8" y1="99.56" x2="622" y2="99.56" stroke="#111" stroke-width="1.6" stroke-dasharray="1.8 4.6"/><text x="626.5" y="103.76" font-size="11.6">A2, 0<tspan dx="1.2">°</tspan></text><line x1="595.8" y1="115.85" x2="622" y2="115.85" stroke="#d92b22" stroke-width="1.6" stroke-dasharray="1.8 4.6"/><text x="626.5" y="120.05" font-size="11.6">A2, 30<tspan dx="2.2">°</tspan></text><line x1="595.8" y1="132.14" x2="622" y2="132.14" stroke="#53a831" stroke-width="1.6" stroke-dasharray="1.8 4.6"/><text x="626.5" y="136.34" font-size="11.6">A2, 60<tspan dx="2.2">°</tspan></text><line x1="595.8" y1="148.43" x2="622" y2="148.43" stroke="#2b4aa4" stroke-width="1.6" stroke-dasharray="1.8 4.6"/><text x="626.5" y="152.63" font-size="11.6">A2, 77<tspan dx="2.2">°</tspan></text></g><circle cx="174.4" cy="380.3" r="20.56" fill="none" stroke="#aaa" stroke-width="0.9" stroke-dasharray="1.3 1.9"/><circle cx="174.4" cy="380.3" r="41.12" fill="none" stroke="#aaa" stroke-width="0.9" stroke-dasharray="1.3 1.9"/><circle cx="174.4" cy="380.3" r="61.68" fill="none" stroke="#aaa" stroke-width="0.9" stroke-dasharray="1.3 1.9"/><circle cx="174.4" cy="380.3" r="82.24" fill="none" stroke="#aaa" stroke-width="0.9" stroke-dasharray="1.3 1.9"/><line x1="174.4" y1="380.3" x2="174.4" y2="277.5" stroke="#aaa" stroke-width="0.9" stroke-dasharray="1.3 1.9"/><line x1="174.4" y1="380.3" x2="225.8" y2="291.27" stroke="#aaa" stroke-width="0.9" stroke-dasharray="1.3 1.9"/><line x1="174.4" y1="380.3" x2="263.43" y2="328.9" stroke="#aaa" stroke-width="0.9" stroke-dasharray="1.3 1.9"/><line x1="174.4" y1="380.3" x2="277.2" y2="380.3" stroke="#aaa" stroke-width="0.9" stroke-dasharray="1.3 1.9"/><line x1="174.4" y1="380.3" x2="263.43" y2="431.7" stroke="#aaa" stroke-width="0.9" stroke-dasharray="1.3 1.9"/><line x1="174.4" y1="380.3" x2="225.8" y2="469.33" stroke="#aaa" stroke-width="0.9" stroke-dasharray="1.3 1.9"/><line x1="174.4" y1="380.3" x2="174.4" y2="483.1" stroke="#aaa" stroke-width="0.9" stroke-dasharray="1.3 1.9"/><line x1="174.4" y1="380.3" x2="123" y2="469.33" stroke="#aaa" stroke-width="0.9" stroke-dasharray="1.3 1.9"/><line x1="174.4" y1="380.3" x2="85.37" y2="431.7" stroke="#aaa" stroke-width="0.9" stroke-dasharray="1.3 1.9"/><line x1="174.4" y1="380.3" x2="71.6" y2="380.3" stroke="#aaa" stroke-width="0.9" stroke-dasharray="1.3 1.9"/><line x1="174.4" y1="380.3" x2="85.37" y2="328.9" stroke="#aaa" stroke-width="0.9" stroke-dasharray="1.3 1.9"/><line x1="174.4" y1="380.3" x2="123" y2="291.27" stroke="#aaa" stroke-width="0.9" stroke-dasharray="1.3 1.9"/><circle cx="174.4" cy="380.3" r="102.8" fill="none" stroke="#555" stroke-width="1"/><line x1="174.4" y1="277.5" x2="174.4" y2="280.9" stroke="#555" stroke-width="1" /><line x1="201.01" y1="281" x2="200.49" y2="282.93" stroke="#555" stroke-width="1" /><line x1="225.8" y1="291.27" x2="224.1" y2="294.22" stroke="#555" stroke-width="1" /><line x1="247.09" y1="307.61" x2="245.68" y2="309.02" stroke="#555" stroke-width="1" /><line x1="263.43" y1="328.9" x2="260.48" y2="330.6" stroke="#555" stroke-width="1" /><line x1="273.7" y1="353.69" x2="271.77" y2="354.21" stroke="#555" stroke-width="1" /><line x1="277.2" y1="380.3" x2="273.8" y2="380.3" stroke="#555" stroke-width="1" /><line x1="273.7" y1="406.91" x2="271.77" y2="406.39" stroke="#555" stroke-width="1" /><line x1="263.43" y1="431.7" x2="260.48" y2="430" stroke="#555" stroke-width="1" /><line x1="247.09" y1="452.99" x2="245.68" y2="451.58" stroke="#555" stroke-width="1" /><line x1="225.8" y1="469.33" x2="224.1" y2="466.38" stroke="#555" stroke-width="1" /><line x1="201.01" y1="479.6" x2="200.49" y2="477.67" stroke="#555" stroke-width="1" /><line x1="174.4" y1="483.1" x2="174.4" y2="479.7" stroke="#555" stroke-width="1" /><line x1="147.79" y1="479.6" x2="148.31" y2="477.67" stroke="#555" stroke-width="1" /><line x1="123" y1="469.33" x2="124.7" y2="466.38" stroke="#555" stroke-width="1" /><line x1="101.71" y1="452.99" x2="103.12" y2="451.58" stroke="#555" stroke-width="1" /><line x1="85.37" y1="431.7" x2="88.32" y2="430" stroke="#555" stroke-width="1" /><line x1="75.1" y1="406.91" x2="77.03" y2="406.39" stroke="#555" stroke-width="1" /><line x1="71.6" y1="380.3" x2="75" y2="380.3" stroke="#555" stroke-width="1" /><line x1="75.1" y1="353.69" x2="77.03" y2="354.21" stroke="#555" stroke-width="1" /><line x1="85.37" y1="328.9" x2="88.32" y2="330.6" stroke="#555" stroke-width="1" /><line x1="101.71" y1="307.61" x2="103.12" y2="309.02" stroke="#555" stroke-width="1" /><line x1="123" y1="291.27" x2="124.7" y2="294.22" stroke="#555" stroke-width="1" /><line x1="147.79" y1="281" x2="148.31" y2="282.93" stroke="#555" stroke-width="1" /><line x1="50.6" y1="277.5" x2="50.6" y2="483.1" stroke="#808080" stroke-width="1" /><g font-family="Liberation Serif, serif" fill="#222"><line x1="46.8" y1="277.5" x2="50.6" y2="277.5" stroke="#777" stroke-width="1" /><line x1="49" y1="287.78" x2="50.6" y2="287.78" stroke="#777" stroke-width="1" /><line x1="46.8" y1="298.06" x2="50.6" y2="298.06" stroke="#777" stroke-width="1" /><line x1="49" y1="308.34" x2="50.6" y2="308.34" stroke="#777" stroke-width="1" /><line x1="46.8" y1="318.62" x2="50.6" y2="318.62" stroke="#777" stroke-width="1" /><line x1="49" y1="328.9" x2="50.6" y2="328.9" stroke="#777" stroke-width="1" /><line x1="46.8" y1="339.18" x2="50.6" y2="339.18" stroke="#777" stroke-width="1" /><line x1="49" y1="349.46" x2="50.6" y2="349.46" stroke="#777" stroke-width="1" /><line x1="46.8" y1="359.74" x2="50.6" y2="359.74" stroke="#777" stroke-width="1" /><line x1="49" y1="370.02" x2="50.6" y2="370.02" stroke="#777" stroke-width="1" /><line x1="46.8" y1="380.3" x2="50.6" y2="380.3" stroke="#777" stroke-width="1" /><line x1="49" y1="390.58" x2="50.6" y2="390.58" stroke="#777" stroke-width="1" /><line x1="46.8" y1="400.86" x2="50.6" y2="400.86" stroke="#777" stroke-width="1" /><line x1="49" y1="411.14" x2="50.6" y2="411.14" stroke="#777" stroke-width="1" /><line x1="46.8" y1="421.42" x2="50.6" y2="421.42" stroke="#777" stroke-width="1" /><line x1="49" y1="431.7" x2="50.6" y2="431.7" stroke="#777" stroke-width="1" /><line x1="46.8" y1="441.98" x2="50.6" y2="441.98" stroke="#777" stroke-width="1" /><line x1="49" y1="452.26" x2="50.6" y2="452.26" stroke="#777" stroke-width="1" /><line x1="46.8" y1="462.54" x2="50.6" y2="462.54" stroke="#777" stroke-width="1" /><line x1="49" y1="472.82" x2="50.6" y2="472.82" stroke="#777" stroke-width="1" /><line x1="46.8" y1="483.1" x2="50.6" y2="483.1" stroke="#777" stroke-width="1" /><text x="44.4" y="281.1" font-size="11" text-anchor="end" >5</text><text x="44.4" y="301.66" font-size="11" text-anchor="end" >0</text><text x="44.4" y="322.22" font-size="11" text-anchor="end" >-5</text><text x="44.4" y="342.78" font-size="11" text-anchor="end" >-10</text><text x="44.4" y="363.34" font-size="11" text-anchor="end" >-15</text><text x="44.4" y="383.9" font-size="11" text-anchor="end" >-20</text><text x="44.4" y="404.46" font-size="11" text-anchor="end" >-15</text><text x="44.4" y="425.02" font-size="11" text-anchor="end" >-10</text><text x="44.4" y="445.58" font-size="11" text-anchor="end" >-5</text><text x="44.4" y="466.14" font-size="11" text-anchor="end" >0</text><text x="44.4" y="486.7" font-size="11" text-anchor="end" >5</text><text x="174.4" y="271" font-size="11" text-anchor="middle" >0</text><text x="233.4" y="285.8" font-size="11" text-anchor="middle" >30</text><text x="272.6" y="324.6" font-size="11" text-anchor="middle" >60</text><text x="286.5" y="384.1" font-size="11" text-anchor="middle" >90</text><text x="274.9" y="444.2" font-size="11" text-anchor="middle" >120</text><text x="236.2" y="481.4" font-size="11" text-anchor="middle" >150</text><text x="174.7" y="497.2" font-size="11" text-anchor="middle" >180</text><text x="111.9" y="483.1" font-size="11" text-anchor="middle" >-150</text><text x="72.1" y="444.2" font-size="11" text-anchor="middle" >-120</text><text x="59.6" y="384.3" font-size="11" text-anchor="middle" >-90</text><text x="74.4" y="324.6" font-size="11" text-anchor="middle" >-60</text><text x="113.4" y="286.3" font-size="11" text-anchor="middle" >-30</text><text transform="translate(15.8,384.8) rotate(-90)" font-size="14.9" text-anchor="middle">Active far-field pattern (dB)</text></g><circle cx="539.2" cy="380.3" r="20.5" fill="none" stroke="#aaa" stroke-width="0.9" stroke-dasharray="1.3 1.9"/><circle cx="539.2" cy="380.3" r="41" fill="none" stroke="#aaa" stroke-width="0.9" stroke-dasharray="1.3 1.9"/><circle cx="539.2" cy="380.3" r="61.5" fill="none" stroke="#aaa" stroke-width="0.9" stroke-dasharray="1.3 1.9"/><circle cx="539.2" cy="380.3" r="82" fill="none" stroke="#aaa" stroke-width="0.9" stroke-dasharray="1.3 1.9"/><line x1="539.2" y1="380.3" x2="539.2" y2="277.8" stroke="#aaa" stroke-width="0.9" stroke-dasharray="1.3 1.9"/><line x1="539.2" y1="380.3" x2="590.45" y2="291.53" stroke="#aaa" stroke-width="0.9" stroke-dasharray="1.3 1.9"/><line x1="539.2" y1="380.3" x2="627.97" y2="329.05" stroke="#aaa" stroke-width="0.9" stroke-dasharray="1.3 1.9"/><line x1="539.2" y1="380.3" x2="641.7" y2="380.3" stroke="#aaa" stroke-width="0.9" stroke-dasharray="1.3 1.9"/><line x1="539.2" y1="380.3" x2="627.97" y2="431.55" stroke="#aaa" stroke-width="0.9" stroke-dasharray="1.3 1.9"/><line x1="539.2" y1="380.3" x2="590.45" y2="469.07" stroke="#aaa" stroke-width="0.9" stroke-dasharray="1.3 1.9"/><line x1="539.2" y1="380.3" x2="539.2" y2="482.8" stroke="#aaa" stroke-width="0.9" stroke-dasharray="1.3 1.9"/><line x1="539.2" y1="380.3" x2="487.95" y2="469.07" stroke="#aaa" stroke-width="0.9" stroke-dasharray="1.3 1.9"/><line x1="539.2" y1="380.3" x2="450.43" y2="431.55" stroke="#aaa" stroke-width="0.9" stroke-dasharray="1.3 1.9"/><line x1="539.2" y1="380.3" x2="436.7" y2="380.3" stroke="#aaa" stroke-width="0.9" stroke-dasharray="1.3 1.9"/><line x1="539.2" y1="380.3" x2="450.43" y2="329.05" stroke="#aaa" stroke-width="0.9" stroke-dasharray="1.3 1.9"/><line x1="539.2" y1="380.3" x2="487.95" y2="291.53" stroke="#aaa" stroke-width="0.9" stroke-dasharray="1.3 1.9"/><circle cx="539.2" cy="380.3" r="102.5" fill="none" stroke="#555" stroke-width="1"/><line x1="539.2" y1="277.8" x2="539.2" y2="281.2" stroke="#555" stroke-width="1" /><line x1="565.73" y1="281.29" x2="565.21" y2="283.22" stroke="#555" stroke-width="1" /><line x1="590.45" y1="291.53" x2="588.75" y2="294.48" stroke="#555" stroke-width="1" /><line x1="611.68" y1="307.82" x2="610.26" y2="309.24" stroke="#555" stroke-width="1" /><line x1="627.97" y1="329.05" x2="625.02" y2="330.75" stroke="#555" stroke-width="1" /><line x1="638.21" y1="353.77" x2="636.28" y2="354.29" stroke="#555" stroke-width="1" /><line x1="641.7" y1="380.3" x2="638.3" y2="380.3" stroke="#555" stroke-width="1" /><line x1="638.21" y1="406.83" x2="636.28" y2="406.31" stroke="#555" stroke-width="1" /><line x1="627.97" y1="431.55" x2="625.02" y2="429.85" stroke="#555" stroke-width="1" /><line x1="611.68" y1="452.78" x2="610.26" y2="451.36" stroke="#555" stroke-width="1" /><line x1="590.45" y1="469.07" x2="588.75" y2="466.12" stroke="#555" stroke-width="1" /><line x1="565.73" y1="479.31" x2="565.21" y2="477.38" stroke="#555" stroke-width="1" /><line x1="539.2" y1="482.8" x2="539.2" y2="479.4" stroke="#555" stroke-width="1" /><line x1="512.67" y1="479.31" x2="513.19" y2="477.38" stroke="#555" stroke-width="1" /><line x1="487.95" y1="469.07" x2="489.65" y2="466.12" stroke="#555" stroke-width="1" /><line x1="466.72" y1="452.78" x2="468.14" y2="451.36" stroke="#555" stroke-width="1" /><line x1="450.43" y1="431.55" x2="453.38" y2="429.85" stroke="#555" stroke-width="1" /><line x1="440.19" y1="406.83" x2="442.12" y2="406.31" stroke="#555" stroke-width="1" /><line x1="436.7" y1="380.3" x2="440.1" y2="380.3" stroke="#555" stroke-width="1" /><line x1="440.19" y1="353.77" x2="442.12" y2="354.29" stroke="#555" stroke-width="1" /><line x1="450.43" y1="329.05" x2="453.38" y2="330.75" stroke="#555" stroke-width="1" /><line x1="466.72" y1="307.82" x2="468.14" y2="309.24" stroke="#555" stroke-width="1" /><line x1="487.95" y1="291.53" x2="489.65" y2="294.48" stroke="#555" stroke-width="1" /><line x1="512.67" y1="281.29" x2="513.19" y2="283.22" stroke="#555" stroke-width="1" /><line x1="415.5" y1="277.8" x2="415.5" y2="482.8" stroke="#808080" stroke-width="1" /><g font-family="Liberation Serif, serif" fill="#222"><line x1="411.7" y1="277.8" x2="415.5" y2="277.8" stroke="#777" stroke-width="1" /><line x1="413.9" y1="288.05" x2="415.5" y2="288.05" stroke="#777" stroke-width="1" /><line x1="411.7" y1="298.3" x2="415.5" y2="298.3" stroke="#777" stroke-width="1" /><line x1="413.9" y1="308.55" x2="415.5" y2="308.55" stroke="#777" stroke-width="1" /><line x1="411.7" y1="318.8" x2="415.5" y2="318.8" stroke="#777" stroke-width="1" /><line x1="413.9" y1="329.05" x2="415.5" y2="329.05" stroke="#777" stroke-width="1" /><line x1="411.7" y1="339.3" x2="415.5" y2="339.3" stroke="#777" stroke-width="1" /><line x1="413.9" y1="349.55" x2="415.5" y2="349.55" stroke="#777" stroke-width="1" /><line x1="411.7" y1="359.8" x2="415.5" y2="359.8" stroke="#777" stroke-width="1" /><line x1="413.9" y1="370.05" x2="415.5" y2="370.05" stroke="#777" stroke-width="1" /><line x1="411.7" y1="380.3" x2="415.5" y2="380.3" stroke="#777" stroke-width="1" /><line x1="413.9" y1="390.55" x2="415.5" y2="390.55" stroke="#777" stroke-width="1" /><line x1="411.7" y1="400.8" x2="415.5" y2="400.8" stroke="#777" stroke-width="1" /><line x1="413.9" y1="411.05" x2="415.5" y2="411.05" stroke="#777" stroke-width="1" /><line x1="411.7" y1="421.3" x2="415.5" y2="421.3" stroke="#777" stroke-width="1" /><line x1="413.9" y1="431.55" x2="415.5" y2="431.55" stroke="#777" stroke-width="1" /><line x1="411.7" y1="441.8" x2="415.5" y2="441.8" stroke="#777" stroke-width="1" /><line x1="413.9" y1="452.05" x2="415.5" y2="452.05" stroke="#777" stroke-width="1" /><line x1="411.7" y1="462.3" x2="415.5" y2="462.3" stroke="#777" stroke-width="1" /><line x1="413.9" y1="472.55" x2="415.5" y2="472.55" stroke="#777" stroke-width="1" /><line x1="411.7" y1="482.8" x2="415.5" y2="482.8" stroke="#777" stroke-width="1" /><text x="409.3" y="281.4" font-size="11" text-anchor="end" >5</text><text x="409.3" y="301.9" font-size="11" text-anchor="end" >0</text><text x="409.3" y="322.4" font-size="11" text-anchor="end" >-5</text><text x="409.3" y="342.9" font-size="11" text-anchor="end" >-10</text><text x="409.3" y="363.4" font-size="11" text-anchor="end" >-15</text><text x="409.3" y="383.9" font-size="11" text-anchor="end" >-20</text><text x="409.3" y="404.4" font-size="11" text-anchor="end" >-15</text><text x="409.3" y="424.9" font-size="11" text-anchor="end" >-10</text><text x="409.3" y="445.4" font-size="11" text-anchor="end" >-5</text><text x="409.3" y="465.9" font-size="11" text-anchor="end" >0</text><text x="409.3" y="486.4" font-size="11" text-anchor="end" >5</text><text x="539.2" y="271" font-size="11" text-anchor="middle" >0</text><text x="598.2" y="285.8" font-size="11" text-anchor="middle" >30</text><text x="637.4" y="324.6" font-size="11" text-anchor="middle" >60</text><text x="651.3" y="384.1" font-size="11" text-anchor="middle" >90</text><text x="639.7" y="444.2" font-size="11" text-anchor="middle" >120</text><text x="601" y="481.4" font-size="11" text-anchor="middle" >150</text><text x="539.5" y="497.2" font-size="11" text-anchor="middle" >180</text><text x="476.7" y="483.1" font-size="11" text-anchor="middle" >-150</text><text x="436.9" y="444.2" font-size="11" text-anchor="middle" >-120</text><text x="424.4" y="384.3" font-size="11" text-anchor="middle" >-90</text><text x="439.2" y="324.6" font-size="11" text-anchor="middle" >-60</text><text x="478.2" y="286.3" font-size="11" text-anchor="middle" >-30</text><text transform="translate(381.3,383.8) rotate(-90)" font-size="14.9" text-anchor="middle">Active far-field pattern (dB)</text></g><path d="M99.2,380 C100,380.9 102.2,383.4 104,385.4 C105.8,387.4 107.78,389.8 110,392 C112.22,394.2 114.62,396.22 117.3,398.6 C119.98,400.98 123.17,404.28 126.1,406.3 C129.03,408.32 131.97,409.58 134.9,410.7 C137.83,411.82 140.77,412.07 143.7,413 C146.63,413.93 149.93,415.32 152.5,416.3 C155.07,417.28 156.17,418.47 159.1,418.9 C162.03,419.33 166.62,419.12 170.1,418.9 C173.58,418.68 177.32,417.98 180,417.6 C182.68,417.22 185,417.28 186.2,416.6 C187.4,415.92 186.57,414.93 187.2,413.5 C187.83,412.07 188.87,409.5 190,408 C191.13,406.5 192.58,405.33 194,404.5 C195.42,403.67 197.38,403.92 198.5,403 C199.62,402.08 199.95,400.17 200.7,399 C201.45,397.83 202.62,396.5 203,396" fill="none" stroke="#111" stroke-width="1.7" stroke-linejoin="round" stroke-linecap="round"/><path d="M87.5,340.5 C87.75,339.48 87.72,337.15 89,334.4 C90.28,331.65 92.7,326.83 95.2,324 C97.7,321.17 101.05,318.87 104,317.4 C106.95,315.93 110.32,315.38 112.9,315.2 C115.48,315.02 117.67,316.67 119.5,316.3 C121.33,315.93 122.25,314.48 123.9,313 C125.55,311.52 127.75,309.43 129.4,307.4 C131.05,305.37 133.07,301.9 133.8,300.8" fill="none" stroke="#111" stroke-width="1.7" stroke-linejoin="round" stroke-linecap="round"/><path d="M222,308.5 C222.53,309.02 223.87,309.88 225.2,311.6 C226.53,313.32 228.4,316.9 230,318.8 C231.6,320.7 233,321.8 234.8,323 C236.6,324.2 238.6,325.1 240.8,326 C243,326.9 245.8,327.6 248,328.4 C250.2,329.2 252.2,329.8 254,330.8 C255.8,331.8 257.4,332.6 258.8,334.4 C260.2,336.2 261.6,339 262.4,341.6 C263.2,344.2 263.5,347.27 263.6,350 C263.7,352.73 263.52,355.27 263,358 C262.48,360.73 260.92,365 260.5,366.4" fill="none" stroke="#111" stroke-width="1.7" stroke-linejoin="round" stroke-linecap="round"/><path d="M104,385.5 C105,386.5 107.78,389.32 110,391.5 C112.22,393.68 114.97,396.68 117.3,398.6 C119.63,400.52 121.8,401.9 124,403 C126.2,404.1 127.22,404.5 130.5,405.2 C133.78,405.9 140.45,406.93 143.7,407.2 C146.95,407.47 148.45,406.83 150,406.8 C151.55,406.77 152.08,406.72 153,407 C153.92,407.28 154.85,408.07 155.5,408.5 C156.15,408.93 155.57,408.48 156.9,409.6 C158.23,410.72 160.78,413.9 163.5,415.2 C166.22,416.5 169.75,417.22 173.2,417.4 C176.65,417.58 181.82,417.03 184.2,416.3 C186.58,415.57 186.62,414.72 187.5,413 C188.38,411.28 188.58,407.75 189.5,406 C190.42,404.25 191.58,403.42 193,402.5 C194.42,401.58 196.5,401.33 198,400.5 C199.5,399.67 201.33,398 202,397.5" fill="none" stroke="#d23a30" stroke-width="1.7" stroke-linejoin="round" stroke-linecap="round"/><path d="M95.6,329.6 C97,328.8 101.6,326.07 104,324.8 C106.4,323.53 107.97,322.5 110,322 C112.03,321.5 114.43,322.72 116.2,321.8 C117.97,320.88 118.77,318.9 120.6,316.5 C122.43,314.1 126.1,308.92 127.2,307.4" fill="none" stroke="#d23a30" stroke-width="1.7" stroke-linejoin="round" stroke-linecap="round"/><path d="M196,404 C196.5,403.08 198.07,399.95 199,398.5 C199.93,397.05 200.43,395.85 201.6,395.3 C202.77,394.75 204.35,395.05 206,395.2 C207.65,395.35 209.17,395.97 211.5,396.2 C213.83,396.43 217.25,396.77 220,396.6 C222.75,396.43 225.33,396 228,395.2 C230.67,394.4 234.67,392.37 236,391.8" fill="none" stroke="#d23a30" stroke-width="1.7" stroke-linejoin="round" stroke-linecap="round"/><path d="M205,398 C206.08,397.82 209,397.13 211.5,396.9 C214,396.67 217.45,396.92 220,396.6 C222.55,396.28 224.47,395.77 226.8,395 C229.13,394.23 232.8,392.5 234,392" fill="none" stroke="#72b845" stroke-width="1.7" stroke-linejoin="round" stroke-linecap="round"/><path d="M184.2,416.6 C184.58,416.25 185.87,415.6 186.5,414.5 C187.13,413.4 187.42,411.42 188,410 C188.58,408.58 189.25,406.83 190,406 C190.75,405.17 191.67,404.83 192.5,405 C193.33,405.17 194.25,406.75 195,407 C195.75,407.25 196.33,407.33 197,406.5 C197.67,405.67 198.33,403.5 199,402 C199.67,400.5 200,398.25 201,397.5 C202,396.75 204.33,397.5 205,397.5" fill="none" stroke="#111" stroke-width="1.7" stroke-linejoin="round" stroke-linecap="round"/><path d="M186,413 C186.33,412.17 187.17,409.58 188,408 C188.83,406.42 190,404.33 191,403.5 C192,402.67 193.17,402.75 194,403 C194.83,403.25 195.25,404.83 196,405 C196.75,405.17 197.83,404.83 198.5,404 C199.17,403.17 199.42,401.2 200,400 C200.58,398.8 201.67,397.33 202,396.8" fill="none" stroke="#4062b0" stroke-width="1.7" stroke-linejoin="round" stroke-linecap="round"/><path d="M110,391 C111.25,391.75 114.82,394.08 117.5,395.5 C120.18,396.92 123.02,398.65 126.1,399.5 C129.18,400.35 133.07,400.38 136,400.6 C138.93,400.82 141.37,400.65 143.7,400.8 C146.03,400.95 148.37,401.3 150,401.5 C151.63,401.7 152.58,400.83 153.5,402 C154.42,403.17 154.75,406.5 155.5,408.5 C156.25,410.5 156.58,412.65 158,414 C159.42,415.35 161.47,416 164,416.6 C166.53,417.2 169.83,417.62 173.2,417.6 C176.57,417.58 181.73,417.43 184.2,416.5 C186.67,415.57 186.87,413.83 188,412 C189.13,410.17 189.83,407 191,405.5 C192.17,404 193.5,403.92 195,403 C196.5,402.08 198.5,400.92 200,400 C201.5,399.08 203.33,397.92 204,397.5" fill="none" stroke="#72b845" stroke-width="1.7" stroke-linejoin="round" stroke-linecap="round"/><path d="M117.3,394.4 C119.13,394.93 124.63,396.93 128.3,397.6 C131.97,398.27 136.27,398.3 139.3,398.4 C142.33,398.5 144.63,398.18 146.5,398.2 C148.37,398.22 149.78,397.73 150.5,398.5 C151.22,399.27 151.22,402.05 150.8,402.8 C150.38,403.55 148.3,403.38 148,403 C147.7,402.62 148.17,400.67 149,400.5 C149.83,400.33 152,400.67 153,402 C154,403.33 154.25,406.5 155,408.5 C155.75,410.5 156,412.65 157.5,414 C159,415.35 161.38,416 164,416.6 C166.62,417.2 169.83,417.62 173.2,417.6 C176.57,417.58 181.77,417.27 184.2,416.5 C186.63,415.73 186.83,414.67 187.8,413 C188.77,411.33 189.05,408.08 190,406.5 C190.95,404.92 192.17,404.25 193.5,403.5 C194.83,402.75 196.75,402.92 198,402 C199.25,401.08 200.5,398.67 201,398" fill="none" stroke="#4062b0" stroke-width="1.7" stroke-linejoin="round" stroke-linecap="round"/><path d="M86.6,351 C86.6,350.43 86.4,349.37 86.6,347.6 C86.8,345.83 87.2,342.6 87.8,340.4 C88.4,338.2 88.9,336.2 90.2,334.4 C91.5,332.6 93.3,331.2 95.6,329.6 C97.9,328 100.93,326.28 104,324.8 C107.07,323.32 111.23,322.3 114,320.7 C116.77,319.1 118.4,317.42 120.6,315.2 C122.8,312.98 124.82,310.17 127.2,307.4 C129.58,304.63 132.15,301.35 134.9,298.6 C137.65,295.85 140.03,293.1 143.7,290.9 C147.37,288.7 151.77,286.68 156.9,285.4 C162.03,284.12 168.65,283.2 174.5,283.2 C180.35,283.2 187.75,284.52 192,285.4 C196.25,286.28 197.07,286.73 200,288.5 C202.93,290.27 206.6,293.35 209.6,296 C212.6,298.65 215.6,302 218,304.4 C220.4,306.8 222.2,308.7 224,310.4 C225.8,312.1 227,313.2 228.8,314.6 C230.6,316 232.4,317.3 234.8,318.8 C237.2,320.3 240.6,322.2 243.2,323.6 C245.8,325 248.2,325.8 250.4,327.2 C252.6,328.6 254.8,330.2 256.4,332 C258,333.8 259,335.6 260,338 C261,340.4 261.93,344.07 262.4,346.4 C262.87,348.73 262.73,351.07 262.8,352" fill="none" stroke="#b46cb2" stroke-width="2.8" stroke-linejoin="round" stroke-linecap="round"/><path d="M86.6,351 C86.6,350.43 86.4,349.37 86.6,347.6 C86.8,345.83 87.2,342.6 87.8,340.4 C88.4,338.2 88.9,336.2 90.2,334.4 C91.5,332.6 93.3,331.2 95.6,329.6 C97.9,328 100.93,326.28 104,324.8 C107.07,323.32 111.23,322.3 114,320.7 C116.77,319.1 118.4,317.42 120.6,315.2 C122.8,312.98 124.82,310.17 127.2,307.4 C129.58,304.63 132.15,301.35 134.9,298.6 C137.65,295.85 140.03,293.1 143.7,290.9 C147.37,288.7 151.77,286.68 156.9,285.4 C162.03,284.12 168.65,283.2 174.5,283.2 C180.35,283.2 187.75,284.52 192,285.4 C196.25,286.28 197.07,286.73 200,288.5 C202.93,290.27 206.6,293.35 209.6,296 C212.6,298.65 215.6,302 218,304.4 C220.4,306.8 222.2,308.7 224,310.4 C225.8,312.1 227,313.2 228.8,314.6 C230.6,316 232.4,317.3 234.8,318.8 C237.2,320.3 240.6,322.2 243.2,323.6 C245.8,325 248.2,325.8 250.4,327.2 C252.6,328.6 254.8,330.2 256.4,332 C258,333.8 259,335.6 260,338 C261,340.4 261.93,344.07 262.4,346.4 C262.87,348.73 262.73,351.07 262.8,352" fill="none" stroke="#5e2c5e" stroke-width="1.4" stroke-linejoin="round" stroke-linecap="round"/><path d="M262.8,352 C262.77,353 263.03,355.6 262.6,358 C262.17,360.4 261.3,363.6 260.2,366.4 C259.1,369.2 257.7,372.2 256,374.8 C254.3,377.4 252.2,379.83 250,382 C247.8,384.17 245.4,385.87 242.8,387.8 C240.2,389.73 237.2,392.07 234.4,393.6 C231.6,395.13 228.73,396.18 226,397 C223.27,397.82 220.55,398.23 218,398.5 C215.45,398.77 212.87,398.75 210.7,398.6 C208.53,398.45 206.52,397.93 205,397.6 C203.48,397.27 202.17,396.77 201.6,396.6" fill="none" stroke="#b46cb2" stroke-width="2.8" stroke-linejoin="round" stroke-linecap="round"/><path d="M262.8,352 C262.77,353 263.03,355.6 262.6,358 C262.17,360.4 261.3,363.6 260.2,366.4 C259.1,369.2 257.7,372.2 256,374.8 C254.3,377.4 252.2,379.83 250,382 C247.8,384.17 245.4,385.87 242.8,387.8 C240.2,389.73 237.2,392.07 234.4,393.6 C231.6,395.13 228.73,396.18 226,397 C223.27,397.82 220.55,398.23 218,398.5 C215.45,398.77 212.87,398.75 210.7,398.6 C208.53,398.45 206.52,397.93 205,397.6 C203.48,397.27 202.17,396.77 201.6,396.6" fill="none" stroke="#5e2c5e" stroke-width="1.4" stroke-linejoin="round" stroke-linecap="round"/><path d="M86.6,351 C86.6,351.63 86.4,352.97 86.6,354.8 C86.8,356.63 87.1,359.6 87.8,362 C88.5,364.4 89.6,367 90.8,369.2 C92,371.4 93.6,373.4 95,375.2 C96.4,377 97.32,377.93 99.2,380 C101.08,382.07 103.28,385.23 106.3,387.6 C109.32,389.97 113.63,392.6 117.3,394.2 C120.97,395.8 126.47,396.7 128.3,397.2" fill="none" stroke="#b46cb2" stroke-width="2.8" stroke-linejoin="round" stroke-linecap="round"/><path d="M86.6,351 C86.6,351.63 86.4,352.97 86.6,354.8 C86.8,356.63 87.1,359.6 87.8,362 C88.5,364.4 89.6,367 90.8,369.2 C92,371.4 93.6,373.4 95,375.2 C96.4,377 97.32,377.93 99.2,380 C101.08,382.07 103.28,385.23 106.3,387.6 C109.32,389.97 113.63,392.6 117.3,394.2 C120.97,395.8 126.47,396.7 128.3,397.2" fill="none" stroke="#5e2c5e" stroke-width="1.4" stroke-linejoin="round" stroke-linecap="round"/><path d="M128.3,397.2 C130.13,397.3 136.37,397.8 139.3,397.8 C142.23,397.8 144.2,397.23 145.9,397.2 C147.6,397.17 148.77,396.72 149.5,397.6 C150.23,398.48 150.63,401.52 150.3,402.5 C149.97,403.48 147.97,404 147.5,403.5 C147.03,403 146.75,399.92 147.5,399.5 C148.25,399.08 150.8,399.58 152,401 C153.2,402.42 153.88,405.92 154.7,408 C155.52,410.08 155.43,412.12 156.9,413.5 C158.37,414.88 160.78,415.65 163.5,416.3 C166.22,416.95 169.75,417.4 173.2,417.4 C176.65,417.4 181.82,416.95 184.2,416.3 C186.58,415.65 186.58,414.98 187.5,413.5 C188.42,412.02 188.78,408.97 189.7,407.4 C190.62,405.83 191.78,404.92 193,404.1 C194.22,403.28 195.92,403.27 197,402.5 C198.08,401.73 198.73,400.48 199.5,399.5 C200.27,398.52 201.25,397.08 201.6,396.6" fill="none" stroke="#9050a8" stroke-width="1.7" stroke-linejoin="round" stroke-linecap="round"/><circle cx="174.4" cy="380.3" r="1.6" fill="none" stroke="#555" stroke-width="0.8"/><g font-family="Liberation Serif, serif" fill="#222"><line x1="155.9" y1="320.2" x2="181.8" y2="320.2" stroke="#111" stroke-width="1.8" /><text x="184.2" y="324.1" font-size="11.1" text-anchor="start" >E1</text><line x1="155.9" y1="334.05" x2="181.8" y2="334.05" stroke="#d9352b" stroke-width="1.8" /><text x="184.2" y="337.95" font-size="11.1" text-anchor="start" >E3</text><line x1="155.9" y1="347.9" x2="181.8" y2="347.9" stroke="#6bbf3a" stroke-width="1.8" /><text x="184.2" y="351.8" font-size="11.1" text-anchor="start" >E5</text><line x1="155.9" y1="361.75" x2="181.8" y2="361.75" stroke="#3c5fb5" stroke-width="1.8" /><text x="184.2" y="365.65" font-size="11.1" text-anchor="start" >E7</text><line x1="155.9" y1="375.6" x2="181.8" y2="375.6" stroke="#a352ad" stroke-width="1.8" /><text x="184.2" y="379.5" font-size="11.1" text-anchor="start" >E9</text></g><g font-family="Liberation Serif, serif" fill="#111"><text x="172.6" y="456.6" font-size="20.4" text-anchor="middle" >(c)</text></g><path d="M453.5,350 C453.58,348.97 453.5,346.23 454,343.8 C454.5,341.37 455.5,337.5 456.5,335.4 C457.5,333.3 458.08,333 460,331.2 C461.92,329.4 465.27,326.67 468,324.6 C470.73,322.53 473.6,320.6 476.4,318.8 C479.2,317 482.4,315.13 484.8,313.8 C487.2,312.47 488.6,312 490.8,310.8 C493,309.6 495.8,308.1 498,306.6 C500.2,305.1 502,303.4 504,301.8 C506,300.2 507.82,298.37 510,297 C512.18,295.63 514.93,294.35 517.1,293.6 C519.27,292.85 520.85,292.42 523,292.5 C525.15,292.58 527.35,293.47 530,294.1 C532.65,294.73 536.43,295.82 538.9,296.3 C541.37,296.78 542.95,296.98 544.8,297 C546.65,297.02 547.93,296.8 550,296.4 C552.07,296 554.6,295 557.2,294.6 C559.8,294.2 563.2,293.6 565.6,294 C568,294.4 569.8,295.7 571.6,297 C573.4,298.3 575.2,300 576.4,301.8 C577.6,303.6 577.8,305.8 578.8,307.8 C579.8,309.8 581,312.25 582.4,313.8 C583.8,315.35 585.2,316.47 587.2,317.1 C589.2,317.73 591.8,317.52 594.4,317.6 C597,317.68 600.2,317.23 602.8,317.6 C605.4,317.97 607.62,318.63 610,319.8 C612.38,320.97 614.92,322.6 617.1,324.6 C619.28,326.6 621.7,329.6 623.1,331.8 C624.5,334 624.97,335.6 625.5,337.8 C626.03,340 626.22,342.63 626.3,345 C626.38,347.37 626.25,349.5 626,352 C625.75,354.5 625.55,357.17 624.8,360 C624.05,362.83 622.8,366 621.5,369 C620.2,372 618.67,374.9 617,378 C615.33,381.1 613.88,384.17 611.5,387.6 C609.12,391.03 606,394.93 602.7,398.6 C599.4,402.27 595.37,407.03 591.7,409.6 C588.03,412.17 584.38,413.23 580.7,414 C577.02,414.77 572.97,414.48 569.6,414.2 C566.23,413.92 563.3,413.35 560.5,412.3 C557.7,411.25 555.18,409.92 552.8,407.9 C550.42,405.88 547.93,402.95 546.2,400.2 C544.47,397.45 543.5,394.7 542.4,391.4 C541.3,388.1 540.07,382.23 539.6,380.4" fill="none" stroke="#111" stroke-width="1.7" stroke-linejoin="round" stroke-linecap="round"/><path d="M539.6,380.4 C539.93,381.83 541.37,386.32 541.6,389 C541.83,391.68 541.4,395.03 541,396.5 C540.6,397.97 539.77,398.38 539.2,397.8 C538.63,397.22 537.77,395.13 537.6,393 C537.43,390.87 537.87,387.1 538.2,385 C538.53,382.9 539.37,381.17 539.6,380.4" fill="none" stroke="#111" stroke-width="1.7" stroke-linejoin="round" stroke-linecap="round"/><path d="M539.6,380.4 C538.5,382.05 534.65,388.1 533,390.3 C531.35,392.5 531.53,392.5 529.7,393.6 C527.87,394.7 524.75,395.8 522,396.9 C519.25,398 514.95,399.93 513.2,400.2 C511.45,400.47 511.68,399.05 511.5,398.5 C511.32,397.95 512.92,397.43 512.1,396.9 C511.28,396.37 509.27,395.05 506.6,395.3 C503.93,395.55 500.05,398.37 496.1,398.4 C492.15,398.43 486.93,397.27 482.9,395.5 C478.87,393.73 475.22,390.63 471.9,387.8 C468.58,384.97 465.4,381.8 463,378.5 C460.6,375.2 458.97,371.4 457.5,368 C456.03,364.6 454.87,361.1 454.2,358.1 C453.53,355.1 453.62,351.35 453.5,350" fill="none" stroke="#111" stroke-width="1.7" stroke-linejoin="round" stroke-linecap="round"/><path d="M453.5,350 C453.67,348.33 453.75,342.83 454.5,340 C455.25,337.17 456.08,335.33 458,333 C459.92,330.67 463.17,328.25 466,326 C468.83,323.75 471.87,322.03 475,319.5 C478.13,316.97 482.37,312.85 484.8,310.8 C487.23,308.75 487.8,308.2 489.6,307.2 C491.4,306.2 493.37,306 495.6,304.8 C497.83,303.6 500.6,301.47 503,300 C505.4,298.53 507.17,297.25 510,296 C512.83,294.75 516.67,293.25 520,292.5 C523.33,291.75 526.67,291.75 530,291.5 C533.33,291.25 536.3,291.22 540,291 C543.7,290.78 548.87,289.95 552.2,290.2 C555.53,290.45 557.53,291.53 560,292.5 C562.47,293.47 564.67,294.85 567,296 C569.33,297.15 571.63,298.43 574,299.4 C576.37,300.37 579,300.8 581.2,301.8 C583.4,302.8 585.6,303.8 587.2,305.4 C588.8,307 589.6,309.3 590.8,311.4 C592,313.5 593,316.2 594.4,318 C595.8,319.8 597.6,321.4 599.2,322.2 C600.8,323 601.8,322 604,322.8 C606.2,323.6 610.07,325.63 612.4,327 C614.73,328.37 616.4,329.8 618,331 C619.6,332.2 620.92,332.37 622,334.2 C623.08,336.03 624,339.37 624.5,342 C625,344.63 625.08,347.33 625,350 C624.92,352.67 624.67,355.17 624,358 C623.33,360.83 622.35,363.17 621,367 C619.65,370.83 618.22,376.83 615.9,381 C613.58,385.17 610.4,388.88 607.1,392 C603.8,395.12 599.77,397.5 596.1,399.7 C592.43,401.9 588.4,404.1 585.1,405.2 C581.8,406.3 579.62,406.85 576.3,406.3 C572.98,405.75 568.2,402.73 565.2,401.9 C562.2,401.07 560.92,402.13 558.3,401.3 C555.68,400.47 551.88,398.73 549.5,396.9 C547.12,395.07 545.65,393.05 544,390.3 C542.35,387.55 540.33,382.05 539.6,380.4" fill="none" stroke="#d23a30" stroke-width="1.7" stroke-linejoin="round" stroke-linecap="round"/><path d="M539.6,380.4 C538.33,381.33 533.83,384.72 532,386 C530.17,387.28 529.53,387.57 528.6,388.1 C527.67,388.63 526.58,389.42 526.4,389.2 C526.22,388.98 527.9,386.83 527.5,386.8 C527.1,386.77 525.47,388.23 524,389 C522.53,389.77 521.03,390.48 518.7,391.4 C516.37,392.32 512.2,393.68 510,394.5 C507.8,395.32 507.82,395.72 505.5,396.3 C503.18,396.88 499.87,398.18 496.1,398 C492.33,397.82 486.93,396.95 482.9,395.2 C478.87,393.45 475.22,390.28 471.9,387.5 C468.58,384.72 464.48,380 463,378.5" fill="none" stroke="#d23a30" stroke-width="1.7" stroke-linejoin="round" stroke-linecap="round"/><path d="M539.6,380.4 C540.88,382.23 545.23,389.1 547.3,391.4 C549.37,393.7 550.35,393.28 552,394.2 C553.65,395.12 555.37,396.17 557.2,396.9 C559.03,397.63 559.82,397.95 563,398.6 C566.18,399.25 571.88,400.62 576.3,400.8 C580.72,400.98 585.1,400.8 589.5,399.7 C593.9,398.6 599.12,396.65 602.7,394.2 C606.28,391.75 608.62,388.03 611,385 C613.38,381.97 616,377.5 617,376" fill="none" stroke="#72b845" stroke-width="1.7" stroke-linejoin="round" stroke-linecap="round"/><path d="M539.6,380.4 C538,381.67 532.6,385.9 530,388 C527.4,390.1 525.7,391.6 524,393 C522.3,394.4 521.42,395.57 519.8,396.4 C518.18,397.23 515.93,397.98 514.3,398 C512.67,398.02 511.28,397.05 510,396.5 C508.72,395.95 508.93,394.53 506.6,394.7 C504.27,394.87 497.77,397.03 496,397.5" fill="none" stroke="#72b845" stroke-width="1.7" stroke-linejoin="round" stroke-linecap="round"/><path d="M539.6,380.4 C540.7,381.5 544.13,385.27 546.2,387 C548.27,388.73 549.7,389.7 552,390.8 C554.3,391.9 557,392.85 560,393.6 C563,394.35 565.83,394.97 570,395.3 C574.17,395.63 580,396.32 585,395.6 C590,394.88 595.67,393.1 600,391 C604.33,388.9 609.17,384.33 611,383" fill="none" stroke="#4062b0" stroke-width="1.7" stroke-linejoin="round" stroke-linecap="round"/><path d="M453.1,349.3 C453.18,348.38 453.12,346.12 453.6,343.8 C454.08,341.48 455,337.5 456,335.4 C457,333.3 457.6,333 459.6,331.2 C461.6,329.4 465.2,326.7 468,324.6 C470.8,322.5 474,320.6 476.4,318.6 C478.8,316.6 480.2,314.5 482.4,312.6 C484.6,310.7 487.4,308.7 489.6,307.2 C491.8,305.7 493.4,304.9 495.6,303.6 C497.8,302.3 500.4,300.6 502.8,299.4 C505.2,298.2 507.62,297.4 510,296.4 C512.38,295.4 514.92,294.2 517.1,293.4 C519.28,292.6 520.95,291.8 523.1,291.6 C525.25,291.4 527.37,292.28 530,292.2 C532.63,292.12 535.57,291.4 538.9,291.1 C542.23,290.8 546.55,289.92 550,290.4 C553.45,290.88 556.6,292.7 559.6,294 C562.6,295.3 565.2,296.9 568,298.2 C570.8,299.5 573.4,300 576.4,301.8 C579.4,303.6 583.2,306.8 586,309 C588.8,311.2 590.8,313.2 593.2,315 C595.6,316.8 598,318.2 600.4,319.8 C602.8,321.4 605.22,323 607.6,324.6 C609.98,326.2 612.3,327.6 614.7,329.4 C617.1,331.2 620.28,333.2 622,335.4 C623.72,337.6 624.37,340.28 625,342.6 C625.63,344.92 625.85,346.72 625.8,349.3 C625.75,351.88 625.42,355.15 624.7,358.1 C623.98,361.05 622.7,364.18 621.5,367 C620.3,369.82 619.17,372.3 617.5,375 C615.83,377.7 614.33,380.37 611.5,383.2 C608.67,386.03 604.53,389.8 600.5,392 C596.47,394.2 591.72,395.48 587.3,396.4 C582.88,397.32 578.05,397.48 574,397.5 C569.95,397.52 566.53,397.52 563,396.5 C559.47,395.48 555.63,393.15 552.8,391.4 C549.97,389.65 548.2,387.83 546,386 C543.8,384.17 540.67,381.33 539.6,380.4" fill="none" stroke="#c27cc2" stroke-width="2.1" stroke-linejoin="round" stroke-linecap="round"/><path d="M453.1,349.3 C453.18,348.38 453.12,346.12 453.6,343.8 C454.08,341.48 455,337.5 456,335.4 C457,333.3 457.6,333 459.6,331.2 C461.6,329.4 465.2,326.7 468,324.6 C470.8,322.5 474,320.6 476.4,318.6 C478.8,316.6 480.2,314.5 482.4,312.6 C484.6,310.7 487.4,308.7 489.6,307.2 C491.8,305.7 493.4,304.9 495.6,303.6 C497.8,302.3 500.4,300.6 502.8,299.4 C505.2,298.2 507.62,297.4 510,296.4 C512.38,295.4 514.92,294.2 517.1,293.4 C519.28,292.6 520.95,291.8 523.1,291.6 C525.25,291.4 527.37,292.28 530,292.2 C532.63,292.12 535.57,291.4 538.9,291.1 C542.23,290.8 546.55,289.92 550,290.4 C553.45,290.88 556.6,292.7 559.6,294 C562.6,295.3 565.2,296.9 568,298.2 C570.8,299.5 573.4,300 576.4,301.8 C579.4,303.6 583.2,306.8 586,309 C588.8,311.2 590.8,313.2 593.2,315 C595.6,316.8 598,318.2 600.4,319.8 C602.8,321.4 605.22,323 607.6,324.6 C609.98,326.2 612.3,327.6 614.7,329.4 C617.1,331.2 620.28,333.2 622,335.4 C623.72,337.6 624.37,340.28 625,342.6 C625.63,344.92 625.85,346.72 625.8,349.3 C625.75,351.88 625.42,355.15 624.7,358.1 C623.98,361.05 622.7,364.18 621.5,367 C620.3,369.82 619.17,372.3 617.5,375 C615.83,377.7 614.33,380.37 611.5,383.2 C608.67,386.03 604.53,389.8 600.5,392 C596.47,394.2 591.72,395.48 587.3,396.4 C582.88,397.32 578.05,397.48 574,397.5 C569.95,397.52 566.53,397.52 563,396.5 C559.47,395.48 555.63,393.15 552.8,391.4 C549.97,389.65 548.2,387.83 546,386 C543.8,384.17 540.67,381.33 539.6,380.4" fill="none" stroke="#86488e" stroke-width="1.2" stroke-linejoin="round" stroke-linecap="round"/><path d="M539.6,380.4 C538.5,381.5 535.38,384.77 533,387 C530.62,389.23 528.05,392.33 525.3,393.8 C522.55,395.27 519.8,395.28 516.5,395.8 C513.2,396.32 508.9,396.5 505.5,396.9 C502.1,397.3 499.87,398.47 496.1,398.2 C492.33,397.93 486.93,397.07 482.9,395.3 C478.87,393.53 475.22,390.4 471.9,387.6 C468.58,384.8 465.4,381.77 463,378.5 C460.6,375.23 458.97,371.4 457.5,368 C456.03,364.6 454.93,361.22 454.2,358.1 C453.47,354.98 453.28,350.77 453.1,349.3" fill="none" stroke="#c27cc2" stroke-width="2.1" stroke-linejoin="round" stroke-linecap="round"/><path d="M539.6,380.4 C538.5,381.5 535.38,384.77 533,387 C530.62,389.23 528.05,392.33 525.3,393.8 C522.55,395.27 519.8,395.28 516.5,395.8 C513.2,396.32 508.9,396.5 505.5,396.9 C502.1,397.3 499.87,398.47 496.1,398.2 C492.33,397.93 486.93,397.07 482.9,395.3 C478.87,393.53 475.22,390.4 471.9,387.6 C468.58,384.8 465.4,381.77 463,378.5 C460.6,375.23 458.97,371.4 457.5,368 C456.03,364.6 454.93,361.22 454.2,358.1 C453.47,354.98 453.28,350.77 453.1,349.3" fill="none" stroke="#86488e" stroke-width="1.2" stroke-linejoin="round" stroke-linecap="round"/><g font-family="Liberation Serif, serif" fill="#222"><line x1="518" y1="312.5" x2="544.4" y2="312.5" stroke="#111" stroke-width="1.8" /><text x="547.1" y="316.4" font-size="11.1" text-anchor="start" >E1</text><line x1="518" y1="326.47" x2="544.4" y2="326.47" stroke="#d9352b" stroke-width="1.8" /><text x="547.1" y="330.37" font-size="11.1" text-anchor="start" >E3</text><line x1="518" y1="340.44" x2="544.4" y2="340.44" stroke="#6bbf3a" stroke-width="1.8" /><text x="547.1" y="344.34" font-size="11.1" text-anchor="start" >E5</text><line x1="518" y1="354.41" x2="544.4" y2="354.41" stroke="#3c5fb5" stroke-width="1.8" /><text x="547.1" y="358.31" font-size="11.1" text-anchor="start" >E7</text><line x1="518" y1="368.38" x2="544.4" y2="368.38" stroke="#a352ad" stroke-width="1.8" /><text x="547.1" y="372.28" font-size="11.1" text-anchor="start" >E9</text></g><g font-family="Liberation Serif, serif" fill="#111"><text x="537.5" y="464.6" font-size="21.6" text-anchor="middle" >(d)</text></g></svg></body></html>
